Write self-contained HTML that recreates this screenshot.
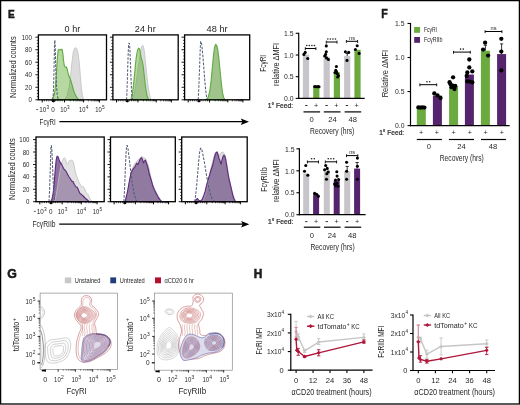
<!DOCTYPE html>
<html><head><meta charset="utf-8"><style>
html,body{margin:0;padding:0;background:#fff;}
svg{display:block;font-family:"Liberation Sans", sans-serif;will-change:transform;}
text{fill:#231f20;}
</style></head><body>
<svg width="520" height="405" viewBox="0 0 520 405">
<rect x="0" y="0" width="520" height="405" fill="#fff"/>
<text x="7.90" y="17.50" font-size="11.7" textLength="6.70" lengthAdjust="spacingAndGlyphs" font-weight="bold" stroke="#000" stroke-width="0.45">E</text>
<text x="381.20" y="17.80" font-size="12.2" textLength="6.50" lengthAdjust="spacingAndGlyphs" font-weight="bold" stroke="#000" stroke-width="0.45">F</text>
<text x="7.20" y="278.00" font-size="12.2" textLength="9.60" lengthAdjust="spacingAndGlyphs" font-weight="bold" stroke="#000" stroke-width="0.45">G</text>
<text x="253.80" y="278.30" font-size="12.2" textLength="8.60" lengthAdjust="spacingAndGlyphs" font-weight="bold" stroke="#000" stroke-width="0.45">H</text>
<path d="M64.50,99.80 L67.00,96.00 L69.00,88.00 L70.50,76.00 L72.00,62.00 L73.30,52.00 L74.60,48.20 L75.60,47.60 L76.80,48.60 L78.00,53.00 L79.20,62.00 L80.30,75.00 L81.30,87.00 L82.30,95.00 L83.50,99.80 Z" fill="#dcdcdc" stroke="#c6c6c6" stroke-width="0.9" stroke-linejoin="round"/>
<path d="M51.80,99.80 L53.00,98.00 L54.40,94.00 L55.50,86.00 L56.50,72.00 L57.40,58.00 L58.20,50.00 L59.00,49.40 L60.20,50.20 L61.20,49.20 L62.20,49.60 L62.90,54.00 L63.60,61.00 L64.40,66.00 L65.40,67.30 L66.40,67.00 L67.40,70.00 L68.40,74.50 L69.60,77.50 L71.00,81.00 L72.40,86.00 L73.60,90.50 L75.00,94.00 L76.60,97.20 L78.70,99.80 Z" fill="rgba(55,152,0,0.37)" stroke="#62ac43" stroke-width="1.15" stroke-linejoin="round"/>
<path d="M52.60,99.80 L53.30,94.00 L53.80,80.00 L54.20,60.00 L54.50,46.00 L54.70,40.20 L54.90,40.20 L55.30,50.00 L55.80,70.00 L56.50,86.00 L57.30,95.00 L58.30,99.80" fill="none" stroke="#525c76" stroke-width="1.05" stroke-linejoin="round" stroke-dasharray="2.6,1.4"/>
<line x1="38.40" y1="99.50" x2="106.50" y2="99.50" stroke="#6aaa3f" stroke-width="0.8" stroke-dasharray="1.5,2.5" opacity="0.8"/>
<rect x="38.40" y="34.90" width="68.10" height="64.90" fill="none" stroke="#000" stroke-width="1.3"/>
<line x1="35.40" y1="99.80" x2="38.40" y2="99.80" stroke="#000" stroke-width="0.9"/>
<text x="31.90" y="102.40" font-size="7.2" text-anchor="end" textLength="3.40" lengthAdjust="spacingAndGlyphs">0</text>
<line x1="36.80" y1="96.67" x2="38.40" y2="96.67" stroke="#000" stroke-width="0.7"/>
<line x1="36.80" y1="93.54" x2="38.40" y2="93.54" stroke="#000" stroke-width="0.7"/>
<line x1="36.80" y1="90.41" x2="38.40" y2="90.41" stroke="#000" stroke-width="0.7"/>
<line x1="35.40" y1="87.28" x2="38.40" y2="87.28" stroke="#000" stroke-width="0.9"/>
<text x="31.90" y="89.88" font-size="7.2" text-anchor="end" textLength="6.80" lengthAdjust="spacingAndGlyphs">20</text>
<line x1="36.80" y1="84.15" x2="38.40" y2="84.15" stroke="#000" stroke-width="0.7"/>
<line x1="36.80" y1="81.02" x2="38.40" y2="81.02" stroke="#000" stroke-width="0.7"/>
<line x1="36.80" y1="77.89" x2="38.40" y2="77.89" stroke="#000" stroke-width="0.7"/>
<line x1="35.40" y1="74.76" x2="38.40" y2="74.76" stroke="#000" stroke-width="0.9"/>
<text x="31.90" y="77.36" font-size="7.2" text-anchor="end" textLength="6.80" lengthAdjust="spacingAndGlyphs">40</text>
<line x1="36.80" y1="71.63" x2="38.40" y2="71.63" stroke="#000" stroke-width="0.7"/>
<line x1="36.80" y1="68.50" x2="38.40" y2="68.50" stroke="#000" stroke-width="0.7"/>
<line x1="36.80" y1="65.37" x2="38.40" y2="65.37" stroke="#000" stroke-width="0.7"/>
<line x1="35.40" y1="62.24" x2="38.40" y2="62.24" stroke="#000" stroke-width="0.9"/>
<text x="31.90" y="64.84" font-size="7.2" text-anchor="end" textLength="6.80" lengthAdjust="spacingAndGlyphs">60</text>
<line x1="36.80" y1="59.11" x2="38.40" y2="59.11" stroke="#000" stroke-width="0.7"/>
<line x1="36.80" y1="55.98" x2="38.40" y2="55.98" stroke="#000" stroke-width="0.7"/>
<line x1="36.80" y1="52.85" x2="38.40" y2="52.85" stroke="#000" stroke-width="0.7"/>
<line x1="35.40" y1="49.72" x2="38.40" y2="49.72" stroke="#000" stroke-width="0.9"/>
<text x="31.90" y="52.32" font-size="7.2" text-anchor="end" textLength="6.80" lengthAdjust="spacingAndGlyphs">80</text>
<line x1="36.80" y1="46.59" x2="38.40" y2="46.59" stroke="#000" stroke-width="0.7"/>
<line x1="36.80" y1="43.46" x2="38.40" y2="43.46" stroke="#000" stroke-width="0.7"/>
<line x1="36.80" y1="40.33" x2="38.40" y2="40.33" stroke="#000" stroke-width="0.7"/>
<line x1="35.40" y1="37.20" x2="38.40" y2="37.20" stroke="#000" stroke-width="0.9"/>
<text x="31.90" y="39.80" font-size="7.2" text-anchor="end" textLength="10.20" lengthAdjust="spacingAndGlyphs">100</text>
<line x1="42.20" y1="99.80" x2="42.20" y2="102.40" stroke="#000" stroke-width="1.0"/>
<line x1="53.40" y1="99.80" x2="53.40" y2="102.40" stroke="#000" stroke-width="1.0"/>
<line x1="64.50" y1="99.80" x2="64.50" y2="102.40" stroke="#000" stroke-width="1.0"/>
<line x1="83.60" y1="99.80" x2="83.60" y2="102.40" stroke="#000" stroke-width="1.0"/>
<line x1="99.40" y1="99.80" x2="99.40" y2="102.40" stroke="#000" stroke-width="1.0"/>
<line x1="70.25" y1="99.80" x2="70.25" y2="101.30" stroke="#000" stroke-width="0.7"/>
<line x1="88.36" y1="99.80" x2="88.36" y2="101.30" stroke="#000" stroke-width="0.7"/>
<line x1="73.61" y1="99.80" x2="73.61" y2="101.30" stroke="#000" stroke-width="0.7"/>
<line x1="91.14" y1="99.80" x2="91.14" y2="101.30" stroke="#000" stroke-width="0.7"/>
<line x1="76.00" y1="99.80" x2="76.00" y2="101.30" stroke="#000" stroke-width="0.7"/>
<line x1="93.11" y1="99.80" x2="93.11" y2="101.30" stroke="#000" stroke-width="0.7"/>
<line x1="77.85" y1="99.80" x2="77.85" y2="101.30" stroke="#000" stroke-width="0.7"/>
<line x1="94.64" y1="99.80" x2="94.64" y2="101.30" stroke="#000" stroke-width="0.7"/>
<line x1="79.36" y1="99.80" x2="79.36" y2="101.30" stroke="#000" stroke-width="0.7"/>
<line x1="95.89" y1="99.80" x2="95.89" y2="101.30" stroke="#000" stroke-width="0.7"/>
<line x1="80.64" y1="99.80" x2="80.64" y2="101.30" stroke="#000" stroke-width="0.7"/>
<line x1="96.95" y1="99.80" x2="96.95" y2="101.30" stroke="#000" stroke-width="0.7"/>
<line x1="81.75" y1="99.80" x2="81.75" y2="101.30" stroke="#000" stroke-width="0.7"/>
<line x1="97.87" y1="99.80" x2="97.87" y2="101.30" stroke="#000" stroke-width="0.7"/>
<line x1="82.73" y1="99.80" x2="82.73" y2="101.30" stroke="#000" stroke-width="0.7"/>
<line x1="98.68" y1="99.80" x2="98.68" y2="101.30" stroke="#000" stroke-width="0.7"/>
<line x1="44.44" y1="99.80" x2="44.44" y2="101.30" stroke="#000" stroke-width="0.7"/>
<line x1="55.62" y1="99.80" x2="55.62" y2="101.30" stroke="#000" stroke-width="0.7"/>
<line x1="46.68" y1="99.80" x2="46.68" y2="101.30" stroke="#000" stroke-width="0.7"/>
<line x1="57.84" y1="99.80" x2="57.84" y2="101.30" stroke="#000" stroke-width="0.7"/>
<line x1="48.92" y1="99.80" x2="48.92" y2="101.30" stroke="#000" stroke-width="0.7"/>
<line x1="60.06" y1="99.80" x2="60.06" y2="101.30" stroke="#000" stroke-width="0.7"/>
<line x1="51.16" y1="99.80" x2="51.16" y2="101.30" stroke="#000" stroke-width="0.7"/>
<line x1="62.28" y1="99.80" x2="62.28" y2="101.30" stroke="#000" stroke-width="0.7"/>
<rect x="52.00" y="100.20" width="2.80" height="1.80" fill="#000"/>
<path d="M132.50,99.80 L134.50,93.00 L136.50,80.00 L138.50,65.00 L140.30,52.00 L141.60,46.20 L142.60,45.20 L143.60,47.00 L144.60,53.00 L145.80,65.00 L147.20,79.00 L148.80,91.00 L150.80,99.80 Z" fill="#dcdcdc" stroke="#c6c6c6" stroke-width="0.9" stroke-linejoin="round"/>
<path d="M130.80,99.80 L132.20,95.00 L133.40,86.00 L134.60,74.00 L135.60,63.00 L136.60,55.00 L137.60,50.00 L138.60,48.20 L139.60,49.20 L140.40,53.00 L141.20,58.00 L142.20,61.00 L143.20,66.00 L144.20,75.00 L145.40,86.00 L146.80,95.00 L148.40,99.80 Z" fill="rgba(55,152,0,0.37)" stroke="#62ac43" stroke-width="1.15" stroke-linejoin="round"/>
<path d="M126.60,99.80 L127.20,85.00 L127.80,65.00 L128.40,48.00 L128.80,43.20 L129.40,43.20 L129.80,48.00 L130.40,62.00 L131.00,78.00 L131.60,92.00 L132.30,99.80" fill="none" stroke="#525c76" stroke-width="1.05" stroke-linejoin="round" stroke-dasharray="2.6,1.4"/>
<line x1="112.90" y1="99.50" x2="178.20" y2="99.50" stroke="#6aaa3f" stroke-width="0.8" stroke-dasharray="1.5,2.5" opacity="0.8"/>
<rect x="112.90" y="34.90" width="65.30" height="64.90" fill="none" stroke="#000" stroke-width="1.3"/>
<line x1="109.90" y1="99.80" x2="112.90" y2="99.80" stroke="#000" stroke-width="0.9"/>
<line x1="111.30" y1="96.67" x2="112.90" y2="96.67" stroke="#000" stroke-width="0.7"/>
<line x1="111.30" y1="93.54" x2="112.90" y2="93.54" stroke="#000" stroke-width="0.7"/>
<line x1="111.30" y1="90.41" x2="112.90" y2="90.41" stroke="#000" stroke-width="0.7"/>
<line x1="109.90" y1="87.28" x2="112.90" y2="87.28" stroke="#000" stroke-width="0.9"/>
<line x1="111.30" y1="84.15" x2="112.90" y2="84.15" stroke="#000" stroke-width="0.7"/>
<line x1="111.30" y1="81.02" x2="112.90" y2="81.02" stroke="#000" stroke-width="0.7"/>
<line x1="111.30" y1="77.89" x2="112.90" y2="77.89" stroke="#000" stroke-width="0.7"/>
<line x1="109.90" y1="74.76" x2="112.90" y2="74.76" stroke="#000" stroke-width="0.9"/>
<line x1="111.30" y1="71.63" x2="112.90" y2="71.63" stroke="#000" stroke-width="0.7"/>
<line x1="111.30" y1="68.50" x2="112.90" y2="68.50" stroke="#000" stroke-width="0.7"/>
<line x1="111.30" y1="65.37" x2="112.90" y2="65.37" stroke="#000" stroke-width="0.7"/>
<line x1="109.90" y1="62.24" x2="112.90" y2="62.24" stroke="#000" stroke-width="0.9"/>
<line x1="111.30" y1="59.11" x2="112.90" y2="59.11" stroke="#000" stroke-width="0.7"/>
<line x1="111.30" y1="55.98" x2="112.90" y2="55.98" stroke="#000" stroke-width="0.7"/>
<line x1="111.30" y1="52.85" x2="112.90" y2="52.85" stroke="#000" stroke-width="0.7"/>
<line x1="109.90" y1="49.72" x2="112.90" y2="49.72" stroke="#000" stroke-width="0.9"/>
<line x1="111.30" y1="46.59" x2="112.90" y2="46.59" stroke="#000" stroke-width="0.7"/>
<line x1="111.30" y1="43.46" x2="112.90" y2="43.46" stroke="#000" stroke-width="0.7"/>
<line x1="111.30" y1="40.33" x2="112.90" y2="40.33" stroke="#000" stroke-width="0.7"/>
<line x1="109.90" y1="37.20" x2="112.90" y2="37.20" stroke="#000" stroke-width="0.9"/>
<line x1="116.54" y1="99.80" x2="116.54" y2="102.40" stroke="#000" stroke-width="1.0"/>
<line x1="127.28" y1="99.80" x2="127.28" y2="102.40" stroke="#000" stroke-width="1.0"/>
<line x1="137.93" y1="99.80" x2="137.93" y2="102.40" stroke="#000" stroke-width="1.0"/>
<line x1="156.24" y1="99.80" x2="156.24" y2="102.40" stroke="#000" stroke-width="1.0"/>
<line x1="171.39" y1="99.80" x2="171.39" y2="102.40" stroke="#000" stroke-width="1.0"/>
<line x1="143.44" y1="99.80" x2="143.44" y2="101.30" stroke="#000" stroke-width="0.7"/>
<line x1="160.80" y1="99.80" x2="160.80" y2="101.30" stroke="#000" stroke-width="0.7"/>
<line x1="146.67" y1="99.80" x2="146.67" y2="101.30" stroke="#000" stroke-width="0.7"/>
<line x1="163.47" y1="99.80" x2="163.47" y2="101.30" stroke="#000" stroke-width="0.7"/>
<line x1="148.95" y1="99.80" x2="148.95" y2="101.30" stroke="#000" stroke-width="0.7"/>
<line x1="165.36" y1="99.80" x2="165.36" y2="101.30" stroke="#000" stroke-width="0.7"/>
<line x1="150.73" y1="99.80" x2="150.73" y2="101.30" stroke="#000" stroke-width="0.7"/>
<line x1="166.83" y1="99.80" x2="166.83" y2="101.30" stroke="#000" stroke-width="0.7"/>
<line x1="152.18" y1="99.80" x2="152.18" y2="101.30" stroke="#000" stroke-width="0.7"/>
<line x1="168.03" y1="99.80" x2="168.03" y2="101.30" stroke="#000" stroke-width="0.7"/>
<line x1="153.40" y1="99.80" x2="153.40" y2="101.30" stroke="#000" stroke-width="0.7"/>
<line x1="169.05" y1="99.80" x2="169.05" y2="101.30" stroke="#000" stroke-width="0.7"/>
<line x1="154.47" y1="99.80" x2="154.47" y2="101.30" stroke="#000" stroke-width="0.7"/>
<line x1="169.92" y1="99.80" x2="169.92" y2="101.30" stroke="#000" stroke-width="0.7"/>
<line x1="155.40" y1="99.80" x2="155.40" y2="101.30" stroke="#000" stroke-width="0.7"/>
<line x1="170.70" y1="99.80" x2="170.70" y2="101.30" stroke="#000" stroke-width="0.7"/>
<line x1="118.69" y1="99.80" x2="118.69" y2="101.30" stroke="#000" stroke-width="0.7"/>
<line x1="129.41" y1="99.80" x2="129.41" y2="101.30" stroke="#000" stroke-width="0.7"/>
<line x1="120.84" y1="99.80" x2="120.84" y2="101.30" stroke="#000" stroke-width="0.7"/>
<line x1="131.54" y1="99.80" x2="131.54" y2="101.30" stroke="#000" stroke-width="0.7"/>
<line x1="122.99" y1="99.80" x2="122.99" y2="101.30" stroke="#000" stroke-width="0.7"/>
<line x1="133.67" y1="99.80" x2="133.67" y2="101.30" stroke="#000" stroke-width="0.7"/>
<line x1="125.14" y1="99.80" x2="125.14" y2="101.30" stroke="#000" stroke-width="0.7"/>
<line x1="135.80" y1="99.80" x2="135.80" y2="101.30" stroke="#000" stroke-width="0.7"/>
<rect x="125.88" y="100.20" width="2.80" height="1.80" fill="#000"/>
<path d="M206.60,99.80 L208.30,97.00 L209.80,91.00 L211.20,80.00 L212.40,67.00 L213.50,55.00 L214.50,47.50 L215.60,44.40 L216.70,45.50 L217.80,50.00 L218.90,59.00 L220.00,70.00 L221.20,82.00 L222.40,92.00 L223.60,97.50 L225.00,99.80 Z" fill="#dcdcdc"/>
<path d="M206.60,99.80 L208.30,97.00 L209.80,91.00 L211.20,80.00 L212.40,67.00 L213.50,55.00 L214.50,47.50 L215.60,44.40 L216.70,45.50 L217.80,50.00 L218.90,59.00 L220.00,70.00 L221.20,82.00 L222.40,92.00 L223.60,97.50 L225.00,99.80 Z" fill="rgba(55,152,0,0.37)" stroke="#62ac43" stroke-width="1.15" stroke-linejoin="round"/>
<path d="M198.20,99.80 L198.80,88.00 L199.50,70.00 L200.10,52.00 L200.60,42.00 L201.10,41.40 L201.80,45.00 L202.80,55.00 L203.80,68.00 L204.90,82.00 L206.00,93.00 L207.00,99.80" fill="none" stroke="#525c76" stroke-width="1.05" stroke-linejoin="round" stroke-dasharray="2.6,1.4"/>
<line x1="184.60" y1="99.50" x2="249.70" y2="99.50" stroke="#6aaa3f" stroke-width="0.8" stroke-dasharray="1.5,2.5" opacity="0.8"/>
<rect x="184.60" y="34.90" width="65.10" height="64.90" fill="none" stroke="#000" stroke-width="1.3"/>
<line x1="181.60" y1="99.80" x2="184.60" y2="99.80" stroke="#000" stroke-width="0.9"/>
<line x1="183.00" y1="96.67" x2="184.60" y2="96.67" stroke="#000" stroke-width="0.7"/>
<line x1="183.00" y1="93.54" x2="184.60" y2="93.54" stroke="#000" stroke-width="0.7"/>
<line x1="183.00" y1="90.41" x2="184.60" y2="90.41" stroke="#000" stroke-width="0.7"/>
<line x1="181.60" y1="87.28" x2="184.60" y2="87.28" stroke="#000" stroke-width="0.9"/>
<line x1="183.00" y1="84.15" x2="184.60" y2="84.15" stroke="#000" stroke-width="0.7"/>
<line x1="183.00" y1="81.02" x2="184.60" y2="81.02" stroke="#000" stroke-width="0.7"/>
<line x1="183.00" y1="77.89" x2="184.60" y2="77.89" stroke="#000" stroke-width="0.7"/>
<line x1="181.60" y1="74.76" x2="184.60" y2="74.76" stroke="#000" stroke-width="0.9"/>
<line x1="183.00" y1="71.63" x2="184.60" y2="71.63" stroke="#000" stroke-width="0.7"/>
<line x1="183.00" y1="68.50" x2="184.60" y2="68.50" stroke="#000" stroke-width="0.7"/>
<line x1="183.00" y1="65.37" x2="184.60" y2="65.37" stroke="#000" stroke-width="0.7"/>
<line x1="181.60" y1="62.24" x2="184.60" y2="62.24" stroke="#000" stroke-width="0.9"/>
<line x1="183.00" y1="59.11" x2="184.60" y2="59.11" stroke="#000" stroke-width="0.7"/>
<line x1="183.00" y1="55.98" x2="184.60" y2="55.98" stroke="#000" stroke-width="0.7"/>
<line x1="183.00" y1="52.85" x2="184.60" y2="52.85" stroke="#000" stroke-width="0.7"/>
<line x1="181.60" y1="49.72" x2="184.60" y2="49.72" stroke="#000" stroke-width="0.9"/>
<line x1="183.00" y1="46.59" x2="184.60" y2="46.59" stroke="#000" stroke-width="0.7"/>
<line x1="183.00" y1="43.46" x2="184.60" y2="43.46" stroke="#000" stroke-width="0.7"/>
<line x1="183.00" y1="40.33" x2="184.60" y2="40.33" stroke="#000" stroke-width="0.7"/>
<line x1="181.60" y1="37.20" x2="184.60" y2="37.20" stroke="#000" stroke-width="0.9"/>
<line x1="188.23" y1="99.80" x2="188.23" y2="102.40" stroke="#000" stroke-width="1.0"/>
<line x1="198.94" y1="99.80" x2="198.94" y2="102.40" stroke="#000" stroke-width="1.0"/>
<line x1="209.55" y1="99.80" x2="209.55" y2="102.40" stroke="#000" stroke-width="1.0"/>
<line x1="227.81" y1="99.80" x2="227.81" y2="102.40" stroke="#000" stroke-width="1.0"/>
<line x1="242.91" y1="99.80" x2="242.91" y2="102.40" stroke="#000" stroke-width="1.0"/>
<line x1="215.05" y1="99.80" x2="215.05" y2="101.30" stroke="#000" stroke-width="0.7"/>
<line x1="232.36" y1="99.80" x2="232.36" y2="101.30" stroke="#000" stroke-width="0.7"/>
<line x1="218.26" y1="99.80" x2="218.26" y2="101.30" stroke="#000" stroke-width="0.7"/>
<line x1="235.02" y1="99.80" x2="235.02" y2="101.30" stroke="#000" stroke-width="0.7"/>
<line x1="220.54" y1="99.80" x2="220.54" y2="101.30" stroke="#000" stroke-width="0.7"/>
<line x1="236.90" y1="99.80" x2="236.90" y2="101.30" stroke="#000" stroke-width="0.7"/>
<line x1="222.31" y1="99.80" x2="222.31" y2="101.30" stroke="#000" stroke-width="0.7"/>
<line x1="238.37" y1="99.80" x2="238.37" y2="101.30" stroke="#000" stroke-width="0.7"/>
<line x1="223.76" y1="99.80" x2="223.76" y2="101.30" stroke="#000" stroke-width="0.7"/>
<line x1="239.56" y1="99.80" x2="239.56" y2="101.30" stroke="#000" stroke-width="0.7"/>
<line x1="224.98" y1="99.80" x2="224.98" y2="101.30" stroke="#000" stroke-width="0.7"/>
<line x1="240.57" y1="99.80" x2="240.57" y2="101.30" stroke="#000" stroke-width="0.7"/>
<line x1="226.04" y1="99.80" x2="226.04" y2="101.30" stroke="#000" stroke-width="0.7"/>
<line x1="241.45" y1="99.80" x2="241.45" y2="101.30" stroke="#000" stroke-width="0.7"/>
<line x1="226.97" y1="99.80" x2="226.97" y2="101.30" stroke="#000" stroke-width="0.7"/>
<line x1="242.22" y1="99.80" x2="242.22" y2="101.30" stroke="#000" stroke-width="0.7"/>
<line x1="190.37" y1="99.80" x2="190.37" y2="101.30" stroke="#000" stroke-width="0.7"/>
<line x1="201.06" y1="99.80" x2="201.06" y2="101.30" stroke="#000" stroke-width="0.7"/>
<line x1="192.52" y1="99.80" x2="192.52" y2="101.30" stroke="#000" stroke-width="0.7"/>
<line x1="203.18" y1="99.80" x2="203.18" y2="101.30" stroke="#000" stroke-width="0.7"/>
<line x1="194.66" y1="99.80" x2="194.66" y2="101.30" stroke="#000" stroke-width="0.7"/>
<line x1="205.31" y1="99.80" x2="205.31" y2="101.30" stroke="#000" stroke-width="0.7"/>
<line x1="196.80" y1="99.80" x2="196.80" y2="101.30" stroke="#000" stroke-width="0.7"/>
<line x1="207.43" y1="99.80" x2="207.43" y2="101.30" stroke="#000" stroke-width="0.7"/>
<rect x="197.54" y="100.20" width="2.80" height="1.80" fill="#000"/>
<line x1="36.20" y1="109.50" x2="38.20" y2="109.50" stroke="#231f20" stroke-width="0.7"/>
<text x="39.20" y="111.70" font-size="7.0" fill="#231f20" textLength="7.00" lengthAdjust="spacingAndGlyphs">10</text>
<text x="46.50" y="109.18" font-size="4.76" fill="#231f20">3</text>
<text x="51.30" y="111.70" font-size="7.0" textLength="3.50" lengthAdjust="spacingAndGlyphs">0</text>
<text x="60.20" y="111.70" font-size="7.0" fill="#231f20" textLength="6.60" lengthAdjust="spacingAndGlyphs">10</text>
<text x="67.10" y="109.18" font-size="4.76" fill="#231f20">3</text>
<text x="79.10" y="111.70" font-size="7.0" fill="#231f20" textLength="6.40" lengthAdjust="spacingAndGlyphs">10</text>
<text x="85.80" y="109.18" font-size="4.76" fill="#231f20">4</text>
<text x="95.20" y="111.70" font-size="7.0" fill="#231f20" textLength="6.50" lengthAdjust="spacingAndGlyphs">10</text>
<text x="102.00" y="109.18" font-size="4.76" fill="#231f20">5</text>
<text x="0" y="0" font-size="9.0" text-anchor="middle" textLength="61.50" lengthAdjust="spacingAndGlyphs" transform="translate(15.84 67.15) rotate(-90)">Normalized counts</text>
<path d="M50.60,201.70 L52.00,199.00 L53.20,193.00 L54.20,183.00 L55.20,170.00 L56.20,160.00 L57.10,156.20 L58.00,156.80 L59.00,159.50 L60.20,162.50 L61.40,163.80 L62.60,166.50 L63.80,168.80 L65.00,170.00 L66.20,171.50 L67.40,174.00 L68.80,176.50 L70.20,178.50 L71.60,181.00 L73.00,181.60 L74.40,184.50 L75.80,186.80 L77.20,187.20 L78.60,190.50 L80.00,193.60 L81.60,194.60 L83.20,196.00 L85.00,198.00 L86.80,199.50 L89.30,201.70 Z" fill="rgba(68,15,98,0.6)"/>
<path d="M54.50,201.70 L56.00,196.00 L57.50,187.00 L59.00,177.00 L60.60,168.00 L62.20,161.50 L63.60,158.20 L64.60,157.80 L65.80,160.00 L67.00,164.50 L68.20,163.00 L69.40,160.80 L71.00,160.20 L72.60,160.40 L73.60,163.00 L74.80,169.00 L76.20,175.00 L77.80,179.00 L79.20,182.50 L80.40,184.50 L81.60,187.00 L82.80,186.50 L84.00,187.20 L85.20,190.00 L86.40,193.00 L87.80,194.00 L89.00,196.50 L90.50,199.50 L92.60,201.70 Z" fill="rgba(195,195,195,0.46)" stroke="#c2c2c2" stroke-width="0.8" stroke-linejoin="round"/>
<path d="M50.60,201.70 L52.00,199.00 L53.20,193.00 L54.20,183.00 L55.20,170.00 L56.20,160.00 L57.10,156.20 L58.00,156.80 L59.00,159.50 L60.20,162.50 L61.40,163.80 L62.60,166.50 L63.80,168.80 L65.00,170.00 L66.20,171.50 L67.40,174.00 L68.80,176.50 L70.20,178.50 L71.60,181.00 L73.00,181.60 L74.40,184.50 L75.80,186.80 L77.20,187.20 L78.60,190.50 L80.00,193.60 L81.60,194.60 L83.20,196.00 L85.00,198.00 L86.80,199.50 L89.30,201.70 Z" fill="none" stroke="#5e2c7e" stroke-width="1.15" stroke-linejoin="round"/>
<path d="M49.00,201.70 L49.60,190.00 L50.20,172.00 L50.70,155.00 L51.00,146.00 L51.40,145.60 L51.90,150.00 L52.50,165.00 L53.20,182.00 L53.90,194.00 L54.80,201.70" fill="none" stroke="#525c76" stroke-width="1.05" stroke-linejoin="round" stroke-dasharray="2.6,1.4"/>
<line x1="36.00" y1="201.40" x2="104.20" y2="201.40" stroke="#6a4a80" stroke-width="0.8" stroke-dasharray="1.5,2.5" opacity="0.8"/>
<rect x="36.00" y="137.00" width="68.20" height="64.70" fill="none" stroke="#000" stroke-width="1.3"/>
<line x1="33.00" y1="201.70" x2="36.00" y2="201.70" stroke="#000" stroke-width="0.9"/>
<text x="29.50" y="204.30" font-size="7.2" text-anchor="end" textLength="3.40" lengthAdjust="spacingAndGlyphs">0</text>
<line x1="34.40" y1="198.59" x2="36.00" y2="198.59" stroke="#000" stroke-width="0.7"/>
<line x1="34.40" y1="195.49" x2="36.00" y2="195.49" stroke="#000" stroke-width="0.7"/>
<line x1="34.40" y1="192.38" x2="36.00" y2="192.38" stroke="#000" stroke-width="0.7"/>
<line x1="33.00" y1="189.28" x2="36.00" y2="189.28" stroke="#000" stroke-width="0.9"/>
<text x="29.50" y="191.88" font-size="7.2" text-anchor="end" textLength="6.80" lengthAdjust="spacingAndGlyphs">20</text>
<line x1="34.40" y1="186.18" x2="36.00" y2="186.18" stroke="#000" stroke-width="0.7"/>
<line x1="34.40" y1="183.07" x2="36.00" y2="183.07" stroke="#000" stroke-width="0.7"/>
<line x1="34.40" y1="179.97" x2="36.00" y2="179.97" stroke="#000" stroke-width="0.7"/>
<line x1="33.00" y1="176.86" x2="36.00" y2="176.86" stroke="#000" stroke-width="0.9"/>
<text x="29.50" y="179.46" font-size="7.2" text-anchor="end" textLength="6.80" lengthAdjust="spacingAndGlyphs">40</text>
<line x1="34.40" y1="173.75" x2="36.00" y2="173.75" stroke="#000" stroke-width="0.7"/>
<line x1="34.40" y1="170.65" x2="36.00" y2="170.65" stroke="#000" stroke-width="0.7"/>
<line x1="34.40" y1="167.54" x2="36.00" y2="167.54" stroke="#000" stroke-width="0.7"/>
<line x1="33.00" y1="164.44" x2="36.00" y2="164.44" stroke="#000" stroke-width="0.9"/>
<text x="29.50" y="167.04" font-size="7.2" text-anchor="end" textLength="6.80" lengthAdjust="spacingAndGlyphs">60</text>
<line x1="34.40" y1="161.34" x2="36.00" y2="161.34" stroke="#000" stroke-width="0.7"/>
<line x1="34.40" y1="158.23" x2="36.00" y2="158.23" stroke="#000" stroke-width="0.7"/>
<line x1="34.40" y1="155.12" x2="36.00" y2="155.12" stroke="#000" stroke-width="0.7"/>
<line x1="33.00" y1="152.02" x2="36.00" y2="152.02" stroke="#000" stroke-width="0.9"/>
<text x="29.50" y="154.62" font-size="7.2" text-anchor="end" textLength="6.80" lengthAdjust="spacingAndGlyphs">80</text>
<line x1="34.40" y1="148.91" x2="36.00" y2="148.91" stroke="#000" stroke-width="0.7"/>
<line x1="34.40" y1="145.81" x2="36.00" y2="145.81" stroke="#000" stroke-width="0.7"/>
<line x1="34.40" y1="142.70" x2="36.00" y2="142.70" stroke="#000" stroke-width="0.7"/>
<line x1="33.00" y1="139.60" x2="36.00" y2="139.60" stroke="#000" stroke-width="0.9"/>
<text x="29.50" y="142.20" font-size="7.2" text-anchor="end" textLength="10.20" lengthAdjust="spacingAndGlyphs">100</text>
<line x1="39.81" y1="201.70" x2="39.81" y2="204.30" stroke="#000" stroke-width="1.0"/>
<line x1="51.02" y1="201.70" x2="51.02" y2="204.30" stroke="#000" stroke-width="1.0"/>
<line x1="62.14" y1="201.70" x2="62.14" y2="204.30" stroke="#000" stroke-width="1.0"/>
<line x1="81.27" y1="201.70" x2="81.27" y2="204.30" stroke="#000" stroke-width="1.0"/>
<line x1="97.09" y1="201.70" x2="97.09" y2="204.30" stroke="#000" stroke-width="1.0"/>
<line x1="67.90" y1="201.70" x2="67.90" y2="203.20" stroke="#000" stroke-width="0.7"/>
<line x1="86.03" y1="201.70" x2="86.03" y2="203.20" stroke="#000" stroke-width="0.7"/>
<line x1="71.26" y1="201.70" x2="71.26" y2="203.20" stroke="#000" stroke-width="0.7"/>
<line x1="88.82" y1="201.70" x2="88.82" y2="203.20" stroke="#000" stroke-width="0.7"/>
<line x1="73.65" y1="201.70" x2="73.65" y2="203.20" stroke="#000" stroke-width="0.7"/>
<line x1="90.79" y1="201.70" x2="90.79" y2="203.20" stroke="#000" stroke-width="0.7"/>
<line x1="75.51" y1="201.70" x2="75.51" y2="203.20" stroke="#000" stroke-width="0.7"/>
<line x1="92.33" y1="201.70" x2="92.33" y2="203.20" stroke="#000" stroke-width="0.7"/>
<line x1="77.02" y1="201.70" x2="77.02" y2="203.20" stroke="#000" stroke-width="0.7"/>
<line x1="93.58" y1="201.70" x2="93.58" y2="203.20" stroke="#000" stroke-width="0.7"/>
<line x1="78.30" y1="201.70" x2="78.30" y2="203.20" stroke="#000" stroke-width="0.7"/>
<line x1="94.64" y1="201.70" x2="94.64" y2="203.20" stroke="#000" stroke-width="0.7"/>
<line x1="79.41" y1="201.70" x2="79.41" y2="203.20" stroke="#000" stroke-width="0.7"/>
<line x1="95.56" y1="201.70" x2="95.56" y2="203.20" stroke="#000" stroke-width="0.7"/>
<line x1="80.39" y1="201.70" x2="80.39" y2="203.20" stroke="#000" stroke-width="0.7"/>
<line x1="96.37" y1="201.70" x2="96.37" y2="203.20" stroke="#000" stroke-width="0.7"/>
<line x1="42.05" y1="201.70" x2="42.05" y2="203.20" stroke="#000" stroke-width="0.7"/>
<line x1="53.25" y1="201.70" x2="53.25" y2="203.20" stroke="#000" stroke-width="0.7"/>
<line x1="44.29" y1="201.70" x2="44.29" y2="203.20" stroke="#000" stroke-width="0.7"/>
<line x1="55.47" y1="201.70" x2="55.47" y2="203.20" stroke="#000" stroke-width="0.7"/>
<line x1="46.54" y1="201.70" x2="46.54" y2="203.20" stroke="#000" stroke-width="0.7"/>
<line x1="57.69" y1="201.70" x2="57.69" y2="203.20" stroke="#000" stroke-width="0.7"/>
<line x1="48.78" y1="201.70" x2="48.78" y2="203.20" stroke="#000" stroke-width="0.7"/>
<line x1="59.92" y1="201.70" x2="59.92" y2="203.20" stroke="#000" stroke-width="0.7"/>
<rect x="49.62" y="202.10" width="2.80" height="1.80" fill="#000"/>
<path d="M124.80,201.70 L127.00,194.00 L129.00,184.00 L131.00,174.00 L133.00,167.00 L135.50,162.50 L138.00,160.00 L140.00,158.00 L141.80,156.30 L143.40,157.50 L145.00,158.30 L146.80,161.00 L148.40,166.00 L149.80,172.00 L151.20,179.00 L152.80,185.00 L154.60,189.00 L156.60,193.00 L158.60,197.00 L162.20,201.70 Z" fill="#dcdcdc" stroke="#c6c6c6" stroke-width="0.8" stroke-linejoin="round"/>
<path d="M125.10,201.70 L126.60,196.00 L128.00,189.00 L129.40,181.00 L130.80,174.00 L132.20,170.30 L133.40,168.50 L134.60,167.50 L135.80,165.00 L136.80,163.20 L137.80,164.50 L138.60,163.00 L139.60,160.20 L140.60,158.50 L141.60,157.80 L142.60,160.00 L143.40,162.80 L144.40,161.20 L145.40,160.20 L146.40,163.20 L147.40,166.00 L148.40,169.60 L149.20,173.80 L150.40,177.50 L151.60,181.50 L152.80,185.80 L154.40,189.90 L156.00,193.00 L158.00,196.80 L159.80,199.60 L161.60,201.70 Z" fill="rgba(95,57,120,0.6)"/>
<path d="M124.80,201.70 L127.00,194.00 L129.00,184.00 L131.00,174.00 L133.00,167.00 L135.50,162.50 L138.00,160.00 L140.00,158.00 L141.80,156.30 L143.40,157.50 L145.00,158.30 L146.80,161.00 L148.40,166.00 L149.80,172.00 L151.20,179.00 L152.80,185.00 L154.60,189.00 L156.60,193.00 L158.60,197.00 L162.20,201.70 Z" fill="none" stroke="#c8c8c8" stroke-width="0.6" stroke-linejoin="round" opacity="0.7"/>
<path d="M125.10,201.70 L126.60,196.00 L128.00,189.00 L129.40,181.00 L130.80,174.00 L132.20,170.30 L133.40,168.50 L134.60,167.50 L135.80,165.00 L136.80,163.20 L137.80,164.50 L138.60,163.00 L139.60,160.20 L140.60,158.50 L141.60,157.80 L142.60,160.00 L143.40,162.80 L144.40,161.20 L145.40,160.20 L146.40,163.20 L147.40,166.00 L148.40,169.60 L149.20,173.80 L150.40,177.50 L151.60,181.50 L152.80,185.80 L154.40,189.90 L156.00,193.00 L158.00,196.80 L159.80,199.60 L161.60,201.70 Z" fill="none" stroke="#5e2c7e" stroke-width="1.15" stroke-linejoin="round"/>
<path d="M123.90,201.70 L124.60,188.00 L125.30,170.00 L126.00,154.00 L126.70,145.40 L127.30,145.40 L128.20,150.00 L129.40,160.00 L130.80,172.00 L132.40,184.00 L134.20,194.00 L136.60,201.70" fill="none" stroke="#525c76" stroke-width="1.05" stroke-linejoin="round" stroke-dasharray="2.6,1.4"/>
<line x1="110.50" y1="201.40" x2="175.30" y2="201.40" stroke="#6a4a80" stroke-width="0.8" stroke-dasharray="1.5,2.5" opacity="0.8"/>
<rect x="110.50" y="137.00" width="64.80" height="64.70" fill="none" stroke="#000" stroke-width="1.3"/>
<line x1="107.50" y1="201.70" x2="110.50" y2="201.70" stroke="#000" stroke-width="0.9"/>
<line x1="108.90" y1="198.59" x2="110.50" y2="198.59" stroke="#000" stroke-width="0.7"/>
<line x1="108.90" y1="195.49" x2="110.50" y2="195.49" stroke="#000" stroke-width="0.7"/>
<line x1="108.90" y1="192.38" x2="110.50" y2="192.38" stroke="#000" stroke-width="0.7"/>
<line x1="107.50" y1="189.28" x2="110.50" y2="189.28" stroke="#000" stroke-width="0.9"/>
<line x1="108.90" y1="186.18" x2="110.50" y2="186.18" stroke="#000" stroke-width="0.7"/>
<line x1="108.90" y1="183.07" x2="110.50" y2="183.07" stroke="#000" stroke-width="0.7"/>
<line x1="108.90" y1="179.97" x2="110.50" y2="179.97" stroke="#000" stroke-width="0.7"/>
<line x1="107.50" y1="176.86" x2="110.50" y2="176.86" stroke="#000" stroke-width="0.9"/>
<line x1="108.90" y1="173.75" x2="110.50" y2="173.75" stroke="#000" stroke-width="0.7"/>
<line x1="108.90" y1="170.65" x2="110.50" y2="170.65" stroke="#000" stroke-width="0.7"/>
<line x1="108.90" y1="167.54" x2="110.50" y2="167.54" stroke="#000" stroke-width="0.7"/>
<line x1="107.50" y1="164.44" x2="110.50" y2="164.44" stroke="#000" stroke-width="0.9"/>
<line x1="108.90" y1="161.34" x2="110.50" y2="161.34" stroke="#000" stroke-width="0.7"/>
<line x1="108.90" y1="158.23" x2="110.50" y2="158.23" stroke="#000" stroke-width="0.7"/>
<line x1="108.90" y1="155.12" x2="110.50" y2="155.12" stroke="#000" stroke-width="0.7"/>
<line x1="107.50" y1="152.02" x2="110.50" y2="152.02" stroke="#000" stroke-width="0.9"/>
<line x1="108.90" y1="148.91" x2="110.50" y2="148.91" stroke="#000" stroke-width="0.7"/>
<line x1="108.90" y1="145.81" x2="110.50" y2="145.81" stroke="#000" stroke-width="0.7"/>
<line x1="108.90" y1="142.70" x2="110.50" y2="142.70" stroke="#000" stroke-width="0.7"/>
<line x1="107.50" y1="139.60" x2="110.50" y2="139.60" stroke="#000" stroke-width="0.9"/>
<line x1="114.12" y1="201.70" x2="114.12" y2="204.30" stroke="#000" stroke-width="1.0"/>
<line x1="124.77" y1="201.70" x2="124.77" y2="204.30" stroke="#000" stroke-width="1.0"/>
<line x1="135.34" y1="201.70" x2="135.34" y2="204.30" stroke="#000" stroke-width="1.0"/>
<line x1="153.51" y1="201.70" x2="153.51" y2="204.30" stroke="#000" stroke-width="1.0"/>
<line x1="168.54" y1="201.70" x2="168.54" y2="204.30" stroke="#000" stroke-width="1.0"/>
<line x1="140.81" y1="201.70" x2="140.81" y2="203.20" stroke="#000" stroke-width="0.7"/>
<line x1="158.04" y1="201.70" x2="158.04" y2="203.20" stroke="#000" stroke-width="0.7"/>
<line x1="144.01" y1="201.70" x2="144.01" y2="203.20" stroke="#000" stroke-width="0.7"/>
<line x1="160.68" y1="201.70" x2="160.68" y2="203.20" stroke="#000" stroke-width="0.7"/>
<line x1="146.28" y1="201.70" x2="146.28" y2="203.20" stroke="#000" stroke-width="0.7"/>
<line x1="162.56" y1="201.70" x2="162.56" y2="203.20" stroke="#000" stroke-width="0.7"/>
<line x1="148.04" y1="201.70" x2="148.04" y2="203.20" stroke="#000" stroke-width="0.7"/>
<line x1="164.02" y1="201.70" x2="164.02" y2="203.20" stroke="#000" stroke-width="0.7"/>
<line x1="149.48" y1="201.70" x2="149.48" y2="203.20" stroke="#000" stroke-width="0.7"/>
<line x1="165.21" y1="201.70" x2="165.21" y2="203.20" stroke="#000" stroke-width="0.7"/>
<line x1="150.69" y1="201.70" x2="150.69" y2="203.20" stroke="#000" stroke-width="0.7"/>
<line x1="166.22" y1="201.70" x2="166.22" y2="203.20" stroke="#000" stroke-width="0.7"/>
<line x1="151.75" y1="201.70" x2="151.75" y2="203.20" stroke="#000" stroke-width="0.7"/>
<line x1="167.09" y1="201.70" x2="167.09" y2="203.20" stroke="#000" stroke-width="0.7"/>
<line x1="152.68" y1="201.70" x2="152.68" y2="203.20" stroke="#000" stroke-width="0.7"/>
<line x1="167.86" y1="201.70" x2="167.86" y2="203.20" stroke="#000" stroke-width="0.7"/>
<line x1="116.25" y1="201.70" x2="116.25" y2="203.20" stroke="#000" stroke-width="0.7"/>
<line x1="126.89" y1="201.70" x2="126.89" y2="203.20" stroke="#000" stroke-width="0.7"/>
<line x1="118.38" y1="201.70" x2="118.38" y2="203.20" stroke="#000" stroke-width="0.7"/>
<line x1="129.00" y1="201.70" x2="129.00" y2="203.20" stroke="#000" stroke-width="0.7"/>
<line x1="120.51" y1="201.70" x2="120.51" y2="203.20" stroke="#000" stroke-width="0.7"/>
<line x1="131.11" y1="201.70" x2="131.11" y2="203.20" stroke="#000" stroke-width="0.7"/>
<line x1="122.64" y1="201.70" x2="122.64" y2="203.20" stroke="#000" stroke-width="0.7"/>
<line x1="133.22" y1="201.70" x2="133.22" y2="203.20" stroke="#000" stroke-width="0.7"/>
<rect x="123.37" y="202.10" width="2.80" height="1.80" fill="#000"/>
<path d="M203.00,201.70 L205.00,196.00 L207.00,188.00 L209.00,178.00 L211.00,168.00 L213.00,160.00 L215.00,154.00 L217.00,151.00 L219.00,156.00 L221.00,152.50 L223.00,152.20 L225.00,155.00 L227.00,165.00 L229.00,178.00 L231.00,188.00 L233.00,195.00 L236.00,201.70 Z" fill="#dcdcdc" stroke="#c6c6c6" stroke-width="0.8" stroke-linejoin="round"/>
<path d="M194.60,201.70 L196.20,199.50 L197.40,198.50 L198.60,200.20 L200.40,201.20 L202.20,199.50 L203.60,196.00 L205.00,192.00 L206.40,186.00 L208.00,180.00 L209.60,175.00 L211.00,170.00 L212.20,166.80 L213.20,163.00 L214.20,158.50 L215.20,154.50 L216.20,152.50 L217.20,152.20 L218.20,155.50 L219.20,159.00 L220.20,161.50 L221.10,164.20 L222.00,160.00 L223.00,156.60 L224.00,155.20 L224.80,156.10 L225.80,160.00 L226.80,166.00 L227.80,172.50 L229.00,179.00 L230.20,184.00 L231.40,189.00 L232.60,194.30 L233.80,198.50 L235.40,201.70 Z" fill="rgba(95,57,120,0.6)"/>
<path d="M203.00,201.70 L205.00,196.00 L207.00,188.00 L209.00,178.00 L211.00,168.00 L213.00,160.00 L215.00,154.00 L217.00,151.00 L219.00,156.00 L221.00,152.50 L223.00,152.20 L225.00,155.00 L227.00,165.00 L229.00,178.00 L231.00,188.00 L233.00,195.00 L236.00,201.70 Z" fill="none" stroke="#c8c8c8" stroke-width="0.6" stroke-linejoin="round" opacity="0.7"/>
<path d="M194.60,201.70 L196.20,199.50 L197.40,198.50 L198.60,200.20 L200.40,201.20 L202.20,199.50 L203.60,196.00 L205.00,192.00 L206.40,186.00 L208.00,180.00 L209.60,175.00 L211.00,170.00 L212.20,166.80 L213.20,163.00 L214.20,158.50 L215.20,154.50 L216.20,152.50 L217.20,152.20 L218.20,155.50 L219.20,159.00 L220.20,161.50 L221.10,164.20 L222.00,160.00 L223.00,156.60 L224.00,155.20 L224.80,156.10 L225.80,160.00 L226.80,166.00 L227.80,172.50 L229.00,179.00 L230.20,184.00 L231.40,189.00 L232.60,194.30 L233.80,198.50 L235.40,201.70 Z" fill="none" stroke="#5e2c7e" stroke-width="1.15" stroke-linejoin="round"/>
<path d="M194.80,201.70 L195.80,194.00 L196.80,184.00 L197.80,172.00 L198.80,160.00 L199.80,151.00 L200.60,148.20 L201.40,148.40 L202.40,152.00 L203.60,158.00 L205.00,166.00 L206.60,176.00 L208.40,186.00 L210.40,194.00 L212.20,199.00 L214.00,201.70" fill="none" stroke="#525c76" stroke-width="1.05" stroke-linejoin="round" stroke-dasharray="2.6,1.4"/>
<line x1="181.70" y1="201.40" x2="247.20" y2="201.40" stroke="#6a4a80" stroke-width="0.8" stroke-dasharray="1.5,2.5" opacity="0.8"/>
<rect x="181.70" y="137.00" width="65.50" height="64.70" fill="none" stroke="#000" stroke-width="1.3"/>
<line x1="178.70" y1="201.70" x2="181.70" y2="201.70" stroke="#000" stroke-width="0.9"/>
<line x1="180.10" y1="198.59" x2="181.70" y2="198.59" stroke="#000" stroke-width="0.7"/>
<line x1="180.10" y1="195.49" x2="181.70" y2="195.49" stroke="#000" stroke-width="0.7"/>
<line x1="180.10" y1="192.38" x2="181.70" y2="192.38" stroke="#000" stroke-width="0.7"/>
<line x1="178.70" y1="189.28" x2="181.70" y2="189.28" stroke="#000" stroke-width="0.9"/>
<line x1="180.10" y1="186.18" x2="181.70" y2="186.18" stroke="#000" stroke-width="0.7"/>
<line x1="180.10" y1="183.07" x2="181.70" y2="183.07" stroke="#000" stroke-width="0.7"/>
<line x1="180.10" y1="179.97" x2="181.70" y2="179.97" stroke="#000" stroke-width="0.7"/>
<line x1="178.70" y1="176.86" x2="181.70" y2="176.86" stroke="#000" stroke-width="0.9"/>
<line x1="180.10" y1="173.75" x2="181.70" y2="173.75" stroke="#000" stroke-width="0.7"/>
<line x1="180.10" y1="170.65" x2="181.70" y2="170.65" stroke="#000" stroke-width="0.7"/>
<line x1="180.10" y1="167.54" x2="181.70" y2="167.54" stroke="#000" stroke-width="0.7"/>
<line x1="178.70" y1="164.44" x2="181.70" y2="164.44" stroke="#000" stroke-width="0.9"/>
<line x1="180.10" y1="161.34" x2="181.70" y2="161.34" stroke="#000" stroke-width="0.7"/>
<line x1="180.10" y1="158.23" x2="181.70" y2="158.23" stroke="#000" stroke-width="0.7"/>
<line x1="180.10" y1="155.12" x2="181.70" y2="155.12" stroke="#000" stroke-width="0.7"/>
<line x1="178.70" y1="152.02" x2="181.70" y2="152.02" stroke="#000" stroke-width="0.9"/>
<line x1="180.10" y1="148.91" x2="181.70" y2="148.91" stroke="#000" stroke-width="0.7"/>
<line x1="180.10" y1="145.81" x2="181.70" y2="145.81" stroke="#000" stroke-width="0.7"/>
<line x1="180.10" y1="142.70" x2="181.70" y2="142.70" stroke="#000" stroke-width="0.7"/>
<line x1="178.70" y1="139.60" x2="181.70" y2="139.60" stroke="#000" stroke-width="0.9"/>
<line x1="185.35" y1="201.70" x2="185.35" y2="204.30" stroke="#000" stroke-width="1.0"/>
<line x1="196.13" y1="201.70" x2="196.13" y2="204.30" stroke="#000" stroke-width="1.0"/>
<line x1="206.80" y1="201.70" x2="206.80" y2="204.30" stroke="#000" stroke-width="1.0"/>
<line x1="225.17" y1="201.70" x2="225.17" y2="204.30" stroke="#000" stroke-width="1.0"/>
<line x1="240.37" y1="201.70" x2="240.37" y2="204.30" stroke="#000" stroke-width="1.0"/>
<line x1="212.33" y1="201.70" x2="212.33" y2="203.20" stroke="#000" stroke-width="0.7"/>
<line x1="229.75" y1="201.70" x2="229.75" y2="203.20" stroke="#000" stroke-width="0.7"/>
<line x1="215.57" y1="201.70" x2="215.57" y2="203.20" stroke="#000" stroke-width="0.7"/>
<line x1="232.43" y1="201.70" x2="232.43" y2="203.20" stroke="#000" stroke-width="0.7"/>
<line x1="217.86" y1="201.70" x2="217.86" y2="203.20" stroke="#000" stroke-width="0.7"/>
<line x1="234.32" y1="201.70" x2="234.32" y2="203.20" stroke="#000" stroke-width="0.7"/>
<line x1="219.64" y1="201.70" x2="219.64" y2="203.20" stroke="#000" stroke-width="0.7"/>
<line x1="235.80" y1="201.70" x2="235.80" y2="203.20" stroke="#000" stroke-width="0.7"/>
<line x1="221.10" y1="201.70" x2="221.10" y2="203.20" stroke="#000" stroke-width="0.7"/>
<line x1="237.00" y1="201.70" x2="237.00" y2="203.20" stroke="#000" stroke-width="0.7"/>
<line x1="222.33" y1="201.70" x2="222.33" y2="203.20" stroke="#000" stroke-width="0.7"/>
<line x1="238.02" y1="201.70" x2="238.02" y2="203.20" stroke="#000" stroke-width="0.7"/>
<line x1="223.39" y1="201.70" x2="223.39" y2="203.20" stroke="#000" stroke-width="0.7"/>
<line x1="238.90" y1="201.70" x2="238.90" y2="203.20" stroke="#000" stroke-width="0.7"/>
<line x1="224.33" y1="201.70" x2="224.33" y2="203.20" stroke="#000" stroke-width="0.7"/>
<line x1="239.68" y1="201.70" x2="239.68" y2="203.20" stroke="#000" stroke-width="0.7"/>
<line x1="187.51" y1="201.70" x2="187.51" y2="203.20" stroke="#000" stroke-width="0.7"/>
<line x1="198.26" y1="201.70" x2="198.26" y2="203.20" stroke="#000" stroke-width="0.7"/>
<line x1="189.66" y1="201.70" x2="189.66" y2="203.20" stroke="#000" stroke-width="0.7"/>
<line x1="200.40" y1="201.70" x2="200.40" y2="203.20" stroke="#000" stroke-width="0.7"/>
<line x1="191.82" y1="201.70" x2="191.82" y2="203.20" stroke="#000" stroke-width="0.7"/>
<line x1="202.53" y1="201.70" x2="202.53" y2="203.20" stroke="#000" stroke-width="0.7"/>
<line x1="193.97" y1="201.70" x2="193.97" y2="203.20" stroke="#000" stroke-width="0.7"/>
<line x1="204.67" y1="201.70" x2="204.67" y2="203.20" stroke="#000" stroke-width="0.7"/>
<rect x="194.73" y="202.10" width="2.80" height="1.80" fill="#000"/>
<line x1="33.80" y1="211.40" x2="35.80" y2="211.40" stroke="#231f20" stroke-width="0.7"/>
<text x="36.80" y="213.60" font-size="7.0" fill="#231f20" textLength="7.00" lengthAdjust="spacingAndGlyphs">10</text>
<text x="44.10" y="211.08" font-size="4.76" fill="#231f20">3</text>
<text x="48.90" y="213.60" font-size="7.0" textLength="3.50" lengthAdjust="spacingAndGlyphs">0</text>
<text x="57.80" y="213.60" font-size="7.0" fill="#231f20" textLength="6.60" lengthAdjust="spacingAndGlyphs">10</text>
<text x="64.70" y="211.08" font-size="4.76" fill="#231f20">3</text>
<text x="76.70" y="213.60" font-size="7.0" fill="#231f20" textLength="6.40" lengthAdjust="spacingAndGlyphs">10</text>
<text x="83.40" y="211.08" font-size="4.76" fill="#231f20">4</text>
<text x="92.80" y="213.60" font-size="7.0" fill="#231f20" textLength="6.50" lengthAdjust="spacingAndGlyphs">10</text>
<text x="99.60" y="211.08" font-size="4.76" fill="#231f20">5</text>
<text x="0" y="0" font-size="9.0" text-anchor="middle" textLength="61.50" lengthAdjust="spacingAndGlyphs" transform="translate(15.44 169.15) rotate(-90)">Normalized counts</text>
<text x="64.60" y="31.60" font-size="9.8" textLength="15.60" lengthAdjust="spacingAndGlyphs">0 hr</text>
<text x="134.80" y="31.60" font-size="9.8" textLength="21.00" lengthAdjust="spacingAndGlyphs">24 hr</text>
<text x="206.60" y="31.60" font-size="9.8" textLength="21.00" lengthAdjust="spacingAndGlyphs">48 hr</text>
<text x="39.60" y="124.80" font-size="8.6" textLength="16.20" lengthAdjust="spacingAndGlyphs">Fc&#947;RI</text>
<line x1="59.40" y1="121.70" x2="243.00" y2="121.70" stroke="#000" stroke-width="1.2"/>
<path d="M240.80,118.40 L249.00,121.70 L240.80,125.00 L242.40,121.70 Z" fill="#000"/>
<text x="32.40" y="227.30" font-size="8.6" textLength="23.20" lengthAdjust="spacingAndGlyphs">Fc&#947;RIIb</text>
<line x1="59.20" y1="224.20" x2="243.30" y2="224.20" stroke="#000" stroke-width="1.2"/>
<path d="M241.10,220.90 L249.30,224.20 L241.10,227.50 L242.70,224.20 Z" fill="#000"/>
<rect x="302.90" y="54.57" width="6.20" height="43.83" fill="#c7c5ca"/>
<rect x="313.20" y="86.68" width="6.20" height="11.72" fill="#6aaa3f"/>
<rect x="323.60" y="56.74" width="6.20" height="41.66" fill="#c7c5ca"/>
<rect x="333.80" y="72.36" width="6.20" height="26.04" fill="#6aaa3f"/>
<rect x="344.10" y="56.09" width="6.20" height="42.31" fill="#c7c5ca"/>
<line x1="347.20" y1="53.48" x2="347.20" y2="56.09" stroke="#000" stroke-width="0.8"/>
<line x1="345.60" y1="53.48" x2="348.80" y2="53.48" stroke="#000" stroke-width="0.8"/>
<rect x="354.40" y="49.79" width="6.20" height="48.61" fill="#6aaa3f"/>
<circle cx="305.20" cy="52.40" r="1.55" fill="#000"/>
<circle cx="303.90" cy="54.40" r="1.55" fill="#000"/>
<circle cx="307.70" cy="58.50" r="1.55" fill="#000"/>
<circle cx="314.60" cy="86.50" r="1.55" fill="#000"/>
<circle cx="316.20" cy="86.70" r="1.55" fill="#000"/>
<circle cx="317.80" cy="86.60" r="1.55" fill="#000"/>
<circle cx="319.00" cy="86.80" r="1.55" fill="#000"/>
<circle cx="326.30" cy="45.90" r="1.55" fill="#000"/>
<circle cx="326.30" cy="51.70" r="1.55" fill="#000"/>
<circle cx="324.70" cy="56.00" r="1.55" fill="#000"/>
<circle cx="326.50" cy="57.90" r="1.55" fill="#000"/>
<circle cx="328.40" cy="59.50" r="1.55" fill="#000"/>
<circle cx="325.60" cy="54.40" r="1.55" fill="#000"/>
<circle cx="336.40" cy="66.50" r="1.55" fill="#000"/>
<circle cx="335.80" cy="70.20" r="1.55" fill="#000"/>
<circle cx="335.00" cy="72.60" r="1.55" fill="#000"/>
<circle cx="337.20" cy="73.60" r="1.55" fill="#000"/>
<circle cx="338.40" cy="75.80" r="1.55" fill="#000"/>
<circle cx="336.60" cy="72.00" r="1.55" fill="#000"/>
<circle cx="337.60" cy="77.00" r="1.55" fill="#000"/>
<circle cx="345.40" cy="51.80" r="1.55" fill="#000"/>
<circle cx="348.70" cy="52.40" r="1.55" fill="#000"/>
<circle cx="347.00" cy="60.40" r="1.55" fill="#000"/>
<circle cx="357.20" cy="45.70" r="1.55" fill="#000"/>
<circle cx="355.40" cy="49.50" r="1.55" fill="#000"/>
<circle cx="359.10" cy="53.40" r="1.55" fill="#000"/>
<line x1="298.70" y1="32.80" x2="298.70" y2="99.00" stroke="#000" stroke-width="1.2"/>
<line x1="298.10" y1="98.40" x2="364.70" y2="98.40" stroke="#000" stroke-width="1.2"/>
<line x1="295.70" y1="98.40" x2="298.70" y2="98.40" stroke="#000" stroke-width="1.1"/>
<text x="293.60" y="101.10" font-size="7.6" text-anchor="end" textLength="9.50" lengthAdjust="spacingAndGlyphs">0.0</text>
<line x1="295.70" y1="76.70" x2="298.70" y2="76.70" stroke="#000" stroke-width="1.1"/>
<text x="293.60" y="79.40" font-size="7.6" text-anchor="end" textLength="9.50" lengthAdjust="spacingAndGlyphs">0.5</text>
<line x1="295.70" y1="55.00" x2="298.70" y2="55.00" stroke="#000" stroke-width="1.1"/>
<text x="293.60" y="57.70" font-size="7.6" text-anchor="end" textLength="9.50" lengthAdjust="spacingAndGlyphs">1.0</text>
<line x1="295.70" y1="33.30" x2="298.70" y2="33.30" stroke="#000" stroke-width="1.1"/>
<text x="293.60" y="36.00" font-size="7.6" text-anchor="end" textLength="9.50" lengthAdjust="spacingAndGlyphs">1.5</text>
<line x1="305.30" y1="48.50" x2="315.90" y2="48.50" stroke="#000" stroke-width="1.0"/>
<line x1="305.30" y1="47.20" x2="305.30" y2="50.10" stroke="#000" stroke-width="0.9"/>
<line x1="315.90" y1="47.20" x2="315.90" y2="50.10" stroke="#000" stroke-width="0.9"/>
<circle cx="306.78" cy="45.50" r="0.82" fill="#222"/>
<circle cx="309.33" cy="45.50" r="0.82" fill="#222"/>
<circle cx="311.88" cy="45.50" r="0.82" fill="#222"/>
<circle cx="314.43" cy="45.50" r="0.82" fill="#222"/>
<line x1="326.30" y1="42.00" x2="337.00" y2="42.00" stroke="#000" stroke-width="1.0"/>
<line x1="326.30" y1="40.70" x2="326.30" y2="43.60" stroke="#000" stroke-width="0.9"/>
<line x1="337.00" y1="40.70" x2="337.00" y2="43.60" stroke="#000" stroke-width="0.9"/>
<circle cx="327.82" cy="39.00" r="0.82" fill="#222"/>
<circle cx="330.38" cy="39.00" r="0.82" fill="#222"/>
<circle cx="332.93" cy="39.00" r="0.82" fill="#222"/>
<circle cx="335.47" cy="39.00" r="0.82" fill="#222"/>
<line x1="346.40" y1="41.30" x2="357.60" y2="41.30" stroke="#000" stroke-width="1.0"/>
<line x1="346.40" y1="40.00" x2="346.40" y2="42.90" stroke="#000" stroke-width="0.9"/>
<line x1="357.60" y1="40.00" x2="357.60" y2="42.90" stroke="#000" stroke-width="0.9"/>
<text x="352.00" y="39.70" font-size="6.0" text-anchor="middle" textLength="6.00" lengthAdjust="spacingAndGlyphs" fill="#444">ns</text>
<text x="0" y="0" font-size="9.2" text-anchor="middle" textLength="16.80" lengthAdjust="spacingAndGlyphs" transform="translate(266.21 63.30) rotate(-90)">Fc&#947;RI</text>
<text x="0" y="0" font-size="9.2" text-anchor="middle" textLength="43.00" lengthAdjust="spacingAndGlyphs" transform="translate(279.01 64.50) rotate(-90)">relative &#916;MFI</text>
<text x="267.70" y="107.70" font-size="7.2" textLength="25.40" lengthAdjust="spacingAndGlyphs" stroke="#231f20" stroke-width="0.22">1&#176; Feed:</text>
<line x1="305.10" y1="105.50" x2="307.50" y2="105.50" stroke="#000" stroke-width="0.8"/>
<text x="316.20" y="107.70" font-size="7.2" text-anchor="middle">+</text>
<line x1="325.40" y1="105.50" x2="327.80" y2="105.50" stroke="#000" stroke-width="0.8"/>
<text x="336.30" y="107.70" font-size="7.2" text-anchor="middle">+</text>
<line x1="345.70" y1="105.50" x2="348.10" y2="105.50" stroke="#000" stroke-width="0.8"/>
<text x="356.60" y="107.70" font-size="7.2" text-anchor="middle">+</text>
<line x1="303.50" y1="111.90" x2="320.10" y2="111.90" stroke="#000" stroke-width="1.2"/>
<line x1="323.80" y1="111.90" x2="340.50" y2="111.90" stroke="#000" stroke-width="1.2"/>
<line x1="344.60" y1="111.90" x2="361.20" y2="111.90" stroke="#000" stroke-width="1.2"/>
<text x="311.60" y="121.50" font-size="7.6000000000000005" text-anchor="middle">0</text>
<text x="332.40" y="121.50" font-size="7.6000000000000005" text-anchor="middle">24</text>
<text x="352.70" y="121.50" font-size="7.6000000000000005" text-anchor="middle">48</text>
<text x="310.00" y="134.00" font-size="9.0" textLength="44.30" lengthAdjust="spacingAndGlyphs">Recovery (hrs)</text>
<rect x="303.20" y="173.43" width="6.00" height="41.27" fill="#c7c5ca"/>
<rect x="313.10" y="194.51" width="6.00" height="20.19" fill="#55246c"/>
<rect x="323.80" y="170.36" width="6.00" height="44.34" fill="#c7c5ca"/>
<rect x="333.70" y="180.46" width="6.00" height="34.24" fill="#55246c"/>
<rect x="344.20" y="171.24" width="6.00" height="43.46" fill="#c7c5ca"/>
<line x1="347.20" y1="166.41" x2="347.20" y2="171.24" stroke="#000" stroke-width="0.8"/>
<line x1="345.60" y1="166.41" x2="348.80" y2="166.41" stroke="#000" stroke-width="0.8"/>
<rect x="354.10" y="168.60" width="6.00" height="46.09" fill="#55246c"/>
<line x1="357.10" y1="162.46" x2="357.10" y2="168.60" stroke="#000" stroke-width="0.8"/>
<line x1="355.50" y1="162.46" x2="358.70" y2="162.46" stroke="#000" stroke-width="0.8"/>
<circle cx="305.80" cy="165.50" r="1.55" fill="#000"/>
<circle cx="304.50" cy="171.20" r="1.55" fill="#000"/>
<circle cx="307.80" cy="175.20" r="1.55" fill="#000"/>
<circle cx="314.60" cy="193.40" r="1.55" fill="#000"/>
<circle cx="316.60" cy="194.30" r="1.55" fill="#000"/>
<circle cx="318.40" cy="196.20" r="1.55" fill="#000"/>
<circle cx="325.70" cy="165.50" r="1.55" fill="#000"/>
<circle cx="324.60" cy="169.80" r="1.55" fill="#000"/>
<circle cx="327.20" cy="168.40" r="1.55" fill="#000"/>
<circle cx="328.20" cy="172.00" r="1.55" fill="#000"/>
<circle cx="326.80" cy="173.80" r="1.55" fill="#000"/>
<circle cx="326.50" cy="179.30" r="1.55" fill="#000"/>
<circle cx="336.80" cy="171.70" r="1.55" fill="#000"/>
<circle cx="337.10" cy="176.10" r="1.55" fill="#000"/>
<circle cx="335.50" cy="180.10" r="1.55" fill="#000"/>
<circle cx="338.60" cy="179.50" r="1.55" fill="#000"/>
<circle cx="335.60" cy="185.60" r="1.55" fill="#000"/>
<circle cx="338.00" cy="186.20" r="1.55" fill="#000"/>
<circle cx="336.80" cy="183.40" r="1.55" fill="#000"/>
<circle cx="334.60" cy="184.00" r="1.55" fill="#000"/>
<circle cx="346.60" cy="162.20" r="1.55" fill="#000"/>
<circle cx="346.60" cy="171.20" r="1.55" fill="#000"/>
<circle cx="346.60" cy="179.30" r="1.55" fill="#000"/>
<circle cx="357.40" cy="158.10" r="1.55" fill="#000"/>
<circle cx="357.40" cy="166.30" r="1.55" fill="#000"/>
<circle cx="357.40" cy="179.30" r="1.55" fill="#000"/>
<line x1="299.40" y1="148.35" x2="299.40" y2="215.30" stroke="#000" stroke-width="1.2"/>
<line x1="298.80" y1="214.70" x2="365.60" y2="214.70" stroke="#000" stroke-width="1.2"/>
<line x1="296.40" y1="214.70" x2="299.40" y2="214.70" stroke="#000" stroke-width="1.1"/>
<text x="294.60" y="217.40" font-size="7.6" text-anchor="end" textLength="9.50" lengthAdjust="spacingAndGlyphs">0.0</text>
<line x1="296.40" y1="192.75" x2="299.40" y2="192.75" stroke="#000" stroke-width="1.1"/>
<text x="294.60" y="195.45" font-size="7.6" text-anchor="end" textLength="9.50" lengthAdjust="spacingAndGlyphs">0.5</text>
<line x1="296.40" y1="170.80" x2="299.40" y2="170.80" stroke="#000" stroke-width="1.1"/>
<text x="294.60" y="173.50" font-size="7.6" text-anchor="end" textLength="9.50" lengthAdjust="spacingAndGlyphs">1.0</text>
<line x1="296.40" y1="148.85" x2="299.40" y2="148.85" stroke="#000" stroke-width="1.1"/>
<text x="294.60" y="151.55" font-size="7.6" text-anchor="end" textLength="9.50" lengthAdjust="spacingAndGlyphs">1.5</text>
<line x1="307.40" y1="161.80" x2="318.50" y2="161.80" stroke="#000" stroke-width="1.0"/>
<line x1="307.40" y1="160.50" x2="307.40" y2="163.40" stroke="#000" stroke-width="0.9"/>
<line x1="318.50" y1="160.50" x2="318.50" y2="163.40" stroke="#000" stroke-width="0.9"/>
<circle cx="311.60" cy="158.80" r="0.82" fill="#222"/>
<circle cx="314.30" cy="158.80" r="0.82" fill="#222"/>
<line x1="325.30" y1="161.80" x2="336.60" y2="161.80" stroke="#000" stroke-width="1.0"/>
<line x1="325.30" y1="160.50" x2="325.30" y2="163.40" stroke="#000" stroke-width="0.9"/>
<line x1="336.60" y1="160.50" x2="336.60" y2="163.40" stroke="#000" stroke-width="0.9"/>
<circle cx="328.25" cy="158.80" r="0.82" fill="#222"/>
<circle cx="330.95" cy="158.80" r="0.82" fill="#222"/>
<circle cx="333.65" cy="158.80" r="0.82" fill="#222"/>
<line x1="346.50" y1="155.60" x2="357.80" y2="155.60" stroke="#000" stroke-width="1.0"/>
<line x1="346.50" y1="154.30" x2="346.50" y2="157.20" stroke="#000" stroke-width="0.9"/>
<line x1="357.80" y1="154.30" x2="357.80" y2="157.20" stroke="#000" stroke-width="0.9"/>
<text x="352.15" y="154.00" font-size="6.0" text-anchor="middle" textLength="6.00" lengthAdjust="spacingAndGlyphs" fill="#444">ns</text>
<text x="0" y="0" font-size="9.2" text-anchor="middle" textLength="24.50" lengthAdjust="spacingAndGlyphs" transform="translate(266.71 179.60) rotate(-90)">Fc&#947;RIIb</text>
<text x="0" y="0" font-size="9.2" text-anchor="middle" textLength="43.00" lengthAdjust="spacingAndGlyphs" transform="translate(278.61 180.60) rotate(-90)">relative &#916;MFI</text>
<text x="268.00" y="223.80" font-size="7.2" textLength="25.40" lengthAdjust="spacingAndGlyphs" stroke="#231f20" stroke-width="0.22">1&#176; Feed:</text>
<line x1="305.10" y1="221.60" x2="307.50" y2="221.60" stroke="#000" stroke-width="0.8"/>
<text x="316.20" y="223.80" font-size="7.2" text-anchor="middle">+</text>
<line x1="325.60" y1="221.60" x2="328.00" y2="221.60" stroke="#000" stroke-width="0.8"/>
<text x="336.70" y="223.80" font-size="7.2" text-anchor="middle">+</text>
<line x1="346.00" y1="221.60" x2="348.40" y2="221.60" stroke="#000" stroke-width="0.8"/>
<text x="357.10" y="223.80" font-size="7.2" text-anchor="middle">+</text>
<line x1="303.80" y1="227.20" x2="320.30" y2="227.20" stroke="#000" stroke-width="1.2"/>
<line x1="324.00" y1="227.20" x2="340.60" y2="227.20" stroke="#000" stroke-width="1.2"/>
<line x1="344.60" y1="227.20" x2="361.20" y2="227.20" stroke="#000" stroke-width="1.2"/>
<text x="311.80" y="237.90" font-size="7.6000000000000005" text-anchor="middle">0</text>
<text x="332.00" y="237.90" font-size="7.6000000000000005" text-anchor="middle">24</text>
<text x="352.20" y="237.90" font-size="7.6000000000000005" text-anchor="middle">48</text>
<text x="310.40" y="249.60" font-size="9.0" textLength="44.30" lengthAdjust="spacingAndGlyphs">Recovery (hrs)</text>
<rect x="416.80" y="107.21" width="9.00" height="18.39" fill="#6aaa3f"/>
<rect x="432.90" y="95.64" width="9.00" height="29.96" fill="#55246c"/>
<rect x="449.10" y="86.10" width="9.00" height="39.50" fill="#6aaa3f"/>
<rect x="464.90" y="74.53" width="9.00" height="51.07" fill="#55246c"/>
<rect x="480.90" y="50.69" width="9.00" height="74.91" fill="#6aaa3f"/>
<line x1="485.40" y1="45.24" x2="485.40" y2="50.69" stroke="#000" stroke-width="0.8"/>
<line x1="483.80" y1="45.24" x2="487.00" y2="45.24" stroke="#000" stroke-width="0.8"/>
<rect x="497.10" y="54.09" width="9.00" height="71.50" fill="#55246c"/>
<line x1="501.60" y1="43.88" x2="501.60" y2="54.09" stroke="#000" stroke-width="0.8"/>
<line x1="500.00" y1="43.88" x2="503.20" y2="43.88" stroke="#000" stroke-width="0.8"/>
<circle cx="418.40" cy="107.40" r="2.15" fill="#000"/>
<circle cx="420.40" cy="107.60" r="2.15" fill="#000"/>
<circle cx="422.40" cy="107.40" r="2.15" fill="#000"/>
<circle cx="424.40" cy="107.60" r="2.15" fill="#000"/>
<circle cx="434.30" cy="93.40" r="2.15" fill="#000"/>
<circle cx="437.50" cy="95.40" r="2.15" fill="#000"/>
<circle cx="440.50" cy="98.00" r="2.15" fill="#000"/>
<circle cx="453.10" cy="77.30" r="2.15" fill="#000"/>
<circle cx="449.60" cy="82.20" r="2.15" fill="#000"/>
<circle cx="450.50" cy="84.20" r="2.15" fill="#000"/>
<circle cx="451.50" cy="87.20" r="2.15" fill="#000"/>
<circle cx="454.50" cy="89.00" r="2.15" fill="#000"/>
<circle cx="455.20" cy="86.00" r="2.15" fill="#000"/>
<circle cx="452.60" cy="85.60" r="2.15" fill="#000"/>
<circle cx="469.30" cy="59.50" r="2.15" fill="#000"/>
<circle cx="469.30" cy="67.40" r="2.15" fill="#000"/>
<circle cx="467.30" cy="72.40" r="2.15" fill="#000"/>
<circle cx="472.30" cy="71.40" r="2.15" fill="#000"/>
<circle cx="466.80" cy="76.00" r="2.15" fill="#000"/>
<circle cx="467.30" cy="81.30" r="2.15" fill="#000"/>
<circle cx="469.80" cy="81.60" r="2.15" fill="#000"/>
<circle cx="472.30" cy="82.30" r="2.15" fill="#000"/>
<circle cx="485.10" cy="42.70" r="2.15" fill="#000"/>
<circle cx="483.10" cy="49.60" r="2.15" fill="#000"/>
<circle cx="488.10" cy="55.60" r="2.15" fill="#000"/>
<circle cx="501.30" cy="38.80" r="2.15" fill="#000"/>
<circle cx="501.30" cy="51.60" r="2.15" fill="#000"/>
<circle cx="501.30" cy="70.40" r="2.15" fill="#000"/>
<line x1="410.50" y1="22.95" x2="410.50" y2="126.20" stroke="#000" stroke-width="1.2"/>
<line x1="409.90" y1="125.60" x2="509.60" y2="125.60" stroke="#000" stroke-width="1.2"/>
<line x1="407.50" y1="125.60" x2="410.50" y2="125.60" stroke="#000" stroke-width="1.1"/>
<text x="404.50" y="128.30" font-size="7.6" text-anchor="end" textLength="9.50" lengthAdjust="spacingAndGlyphs">0.0</text>
<line x1="407.50" y1="91.55" x2="410.50" y2="91.55" stroke="#000" stroke-width="1.1"/>
<text x="404.50" y="94.25" font-size="7.6" text-anchor="end" textLength="9.50" lengthAdjust="spacingAndGlyphs">0.5</text>
<line x1="407.50" y1="57.50" x2="410.50" y2="57.50" stroke="#000" stroke-width="1.1"/>
<text x="404.50" y="60.20" font-size="7.6" text-anchor="end" textLength="9.50" lengthAdjust="spacingAndGlyphs">1.0</text>
<line x1="407.50" y1="23.45" x2="410.50" y2="23.45" stroke="#000" stroke-width="1.1"/>
<text x="404.50" y="26.15" font-size="7.6" text-anchor="end" textLength="9.50" lengthAdjust="spacingAndGlyphs">1.5</text>
<line x1="419.90" y1="84.70" x2="436.70" y2="84.70" stroke="#000" stroke-width="1.0"/>
<line x1="419.90" y1="83.40" x2="419.90" y2="86.30" stroke="#000" stroke-width="0.9"/>
<line x1="436.70" y1="83.40" x2="436.70" y2="86.30" stroke="#000" stroke-width="0.9"/>
<circle cx="426.95" cy="81.70" r="0.82" fill="#222"/>
<circle cx="429.65" cy="81.70" r="0.82" fill="#222"/>
<line x1="453.50" y1="52.10" x2="470.30" y2="52.10" stroke="#000" stroke-width="1.0"/>
<line x1="453.50" y1="50.80" x2="453.50" y2="53.70" stroke="#000" stroke-width="0.9"/>
<line x1="470.30" y1="50.80" x2="470.30" y2="53.70" stroke="#000" stroke-width="0.9"/>
<circle cx="460.55" cy="49.10" r="0.82" fill="#222"/>
<circle cx="463.25" cy="49.10" r="0.82" fill="#222"/>
<line x1="485.10" y1="31.50" x2="501.90" y2="31.50" stroke="#000" stroke-width="1.0"/>
<line x1="485.10" y1="30.20" x2="485.10" y2="33.10" stroke="#000" stroke-width="0.9"/>
<line x1="501.90" y1="30.20" x2="501.90" y2="33.10" stroke="#000" stroke-width="0.9"/>
<text x="493.50" y="29.90" font-size="6.0" text-anchor="middle" textLength="6.00" lengthAdjust="spacingAndGlyphs" fill="#444">ns</text>
<text x="0" y="0" font-size="9.4" text-anchor="middle" textLength="47.50" lengthAdjust="spacingAndGlyphs" transform="translate(387.98 73.60) rotate(-90)">Relative &#916;MFI</text>
<rect x="414.10" y="27.00" width="6.00" height="5.80" fill="#6aaa3f"/>
<rect x="414.20" y="37.00" width="5.80" height="5.80" fill="#55246c"/>
<text x="424.00" y="31.60" font-size="6.4" textLength="13.00" lengthAdjust="spacingAndGlyphs">Fc&#947;RI</text>
<text x="424.00" y="42.40" font-size="6.4" textLength="18.50" lengthAdjust="spacingAndGlyphs">Fc&#947;RIIb</text>
<text x="379.20" y="135.00" font-size="7.2" textLength="25.00" lengthAdjust="spacingAndGlyphs" stroke="#231f20" stroke-width="0.22">1&#176; Feed:</text>
<text x="421.00" y="135.00" font-size="7.2" text-anchor="middle">+</text>
<text x="436.90" y="135.00" font-size="7.2" text-anchor="middle">+</text>
<text x="453.60" y="135.00" font-size="7.2" text-anchor="middle">+</text>
<text x="469.80" y="135.00" font-size="7.2" text-anchor="middle">+</text>
<text x="485.70" y="135.00" font-size="7.2" text-anchor="middle">+</text>
<text x="501.90" y="135.00" font-size="7.2" text-anchor="middle">+</text>
<line x1="416.80" y1="139.50" x2="441.90" y2="139.50" stroke="#000" stroke-width="1.2"/>
<line x1="448.90" y1="139.50" x2="474.00" y2="139.50" stroke="#000" stroke-width="1.2"/>
<line x1="481.00" y1="139.50" x2="506.10" y2="139.50" stroke="#000" stroke-width="1.2"/>
<text x="428.80" y="149.20" font-size="7.6000000000000005" text-anchor="middle">0</text>
<text x="461.40" y="149.20" font-size="7.6000000000000005" text-anchor="middle">24</text>
<text x="493.00" y="149.20" font-size="7.6000000000000005" text-anchor="middle">48</text>
<text x="439.70" y="161.40" font-size="9.0" textLength="44.10" lengthAdjust="spacingAndGlyphs">Recovery (hrs)</text>
<path d="M40.30,306.90 C40.67,307.00 41.78,306.60 42.50,307.50 C43.22,308.40 44.60,310.65 44.60,312.30 C44.60,313.95 43.22,316.48 42.50,317.40 C41.78,318.32 40.67,317.73 40.30,317.80" fill="none" stroke="#9a9a9a" stroke-width="0.6" opacity="0.9"/>
<path d="M40.30,309.00 C40.55,309.10 41.32,309.05 41.80,309.60 C42.28,310.15 43.20,311.32 43.20,312.30 C43.20,313.28 42.28,314.88 41.80,315.50 C41.32,316.12 40.55,315.92 40.30,316.00" fill="none" stroke="#bbb" stroke-width="0.5" opacity="0.8"/>
<path d="M40.30,324.70 C40.65,325.25 41.68,326.12 42.40,328.00 C43.12,329.88 44.12,333.00 44.60,336.00 C45.08,339.00 45.27,342.67 45.30,346.00 C45.33,349.33 45.12,353.00 44.80,356.00 C44.48,359.00 44.03,361.97 43.40,364.00 C42.77,366.03 41.40,367.50 41.00,368.20" fill="none" stroke="#9a9a9a" stroke-width="0.6" opacity="0.9"/>
<path d="M40.30,330.00 C40.55,330.67 41.30,331.50 41.80,334.00 C42.30,336.50 43.07,341.33 43.30,345.00 C43.53,348.67 43.48,352.67 43.20,356.00 C42.92,359.33 41.87,363.50 41.60,365.00" fill="none" stroke="#555" stroke-width="0.7" opacity="0.9"/>
<path d="M40.30,338.00 C40.45,339.33 41.03,343.00 41.20,346.00 C41.37,349.00 41.42,353.33 41.30,356.00 C41.18,358.67 40.63,361.00 40.50,362.00" fill="none" stroke="#bbb" stroke-width="0.5" opacity="0.8"/>
<path d="M45.20,345.00 C46.05,343.53 48.20,341.15 50.00,340.20 C51.80,339.25 54.17,339.57 56.00,339.30 C57.83,339.03 59.38,338.85 61.00,338.60 C62.62,338.35 64.30,337.57 65.70,337.80 C67.10,338.03 68.57,338.72 69.40,340.00 C70.23,341.28 70.70,343.50 70.70,345.50 C70.70,347.50 70.23,349.82 69.40,352.00 C68.57,354.18 67.52,356.90 65.70,358.60 C63.88,360.30 60.82,361.43 58.50,362.20 C56.18,362.97 53.68,363.35 51.80,363.20 C49.92,363.05 48.27,362.67 47.20,361.30 C46.13,359.93 45.78,357.05 45.40,355.00 C45.02,352.95 44.93,350.67 44.90,349.00 C44.87,347.33 44.35,346.47 45.20,345.00 Z" fill="none" stroke="#ababab" stroke-width="0.55" opacity="1.0"/>
<path d="M47.88,346.20 C48.56,345.03 50.28,343.12 51.72,342.36 C53.16,341.60 55.05,341.85 56.52,341.64 C57.99,341.43 59.23,341.28 60.52,341.08 C61.81,340.88 63.16,340.25 64.28,340.44 C65.40,340.63 66.57,341.17 67.24,342.20 C67.91,343.23 68.28,345.00 68.28,346.60 C68.28,348.20 67.91,350.05 67.24,351.80 C66.57,353.55 65.73,355.72 64.28,357.08 C62.83,358.44 60.37,359.35 58.52,359.96 C56.67,360.57 54.67,360.88 53.16,360.76 C51.65,360.64 50.33,360.33 49.48,359.24 C48.63,358.15 48.35,355.84 48.04,354.20 C47.73,352.56 47.67,350.73 47.64,349.40 C47.61,348.07 47.20,347.37 47.88,346.20 Z" fill="none" stroke="#ababab" stroke-width="0.55" opacity="1.0"/>
<path d="M50.56,347.40 C51.07,346.52 52.36,345.09 53.44,344.52 C54.52,343.95 55.94,344.14 57.04,343.98 C58.14,343.82 59.07,343.71 60.04,343.56 C61.01,343.41 62.02,342.94 62.86,343.08 C63.70,343.22 64.58,343.63 65.08,344.40 C65.58,345.17 65.86,346.50 65.86,347.70 C65.86,348.90 65.58,350.29 65.08,351.60 C64.58,352.91 63.95,354.54 62.86,355.56 C61.77,356.58 59.93,357.26 58.54,357.72 C57.15,358.18 55.65,358.41 54.52,358.32 C53.39,358.23 52.40,358.00 51.76,357.18 C51.12,356.36 50.91,354.63 50.68,353.40 C50.45,352.17 50.40,350.80 50.38,349.80 C50.36,348.80 50.05,348.28 50.56,347.40 Z" fill="none" stroke="#ababab" stroke-width="0.55" opacity="1.0"/>
<path d="M52.97,348.48 C53.33,347.86 54.23,346.86 54.99,346.46 C55.74,346.06 56.74,346.20 57.51,346.09 C58.28,345.97 58.93,345.90 59.61,345.79 C60.29,345.69 60.99,345.36 61.58,345.46 C62.17,345.55 62.79,345.84 63.14,346.38 C63.49,346.92 63.68,347.85 63.68,348.69 C63.68,349.53 63.49,350.50 63.14,351.42 C62.79,352.34 62.34,353.48 61.58,354.19 C60.82,354.91 59.53,355.38 58.56,355.70 C57.59,356.03 56.53,356.19 55.74,356.12 C54.95,356.06 54.26,355.90 53.81,355.33 C53.36,354.75 53.22,353.54 53.06,352.68 C52.89,351.82 52.86,350.86 52.85,350.16 C52.83,349.46 52.62,349.10 52.97,348.48 Z" fill="none" stroke="#ababab" stroke-width="0.55" opacity="1.0"/>
<path d="M86.50,295.60 C87.62,295.67 89.15,296.03 90.00,296.80 C90.85,297.57 91.40,298.92 91.60,300.20 C91.80,301.48 90.63,303.20 91.20,304.50 C91.77,305.80 93.77,306.48 95.00,308.00 C96.23,309.52 98.30,311.83 98.60,313.60 C98.90,315.37 97.47,317.03 96.80,318.60 C96.13,320.17 94.77,321.43 94.60,323.00 C94.43,324.57 95.43,326.27 95.80,328.00 C96.17,329.73 95.60,332.33 96.80,333.40 C98.00,334.47 101.07,333.80 103.00,334.40 C104.93,335.00 107.07,335.73 108.40,337.00 C109.73,338.27 110.70,340.17 111.00,342.00 C111.30,343.83 111.20,346.10 110.20,348.00 C109.20,349.90 107.20,351.73 105.00,353.40 C102.80,355.07 99.50,356.67 97.00,358.00 C94.50,359.33 92.38,360.73 90.00,361.40 C87.62,362.07 84.70,362.40 82.70,362.00 C80.70,361.60 79.08,360.67 78.00,359.00 C76.92,357.33 76.45,354.67 76.20,352.00 C75.95,349.33 76.12,345.83 76.50,343.00 C76.88,340.17 77.75,337.42 78.50,335.00 C79.25,332.58 80.72,330.20 81.00,328.50 C81.28,326.80 80.97,326.15 80.20,324.80 C79.43,323.45 77.37,322.00 76.40,320.40 C75.43,318.80 74.40,316.93 74.40,315.20 C74.40,313.47 75.30,311.60 76.40,310.00 C77.50,308.40 80.17,307.35 81.00,305.60 C81.83,303.85 81.02,301.03 81.40,299.50 C81.78,297.97 82.45,297.05 83.30,296.40 C84.15,295.75 85.38,295.53 86.50,295.60 Z" fill="none" stroke="#bd5757" stroke-width="0.55" opacity="1.0"/>
<path d="M86.50,297.40 C87.32,297.47 88.68,297.80 89.30,298.40 C89.92,299.00 90.15,299.87 90.20,301.00 C90.25,302.13 89.07,303.93 89.60,305.20 C90.13,306.47 92.23,307.20 93.40,308.60 C94.57,310.00 96.30,311.97 96.60,313.60 C96.90,315.23 95.80,316.90 95.20,318.40 C94.60,319.90 93.20,321.00 93.00,322.60 C92.80,324.20 93.70,326.07 94.00,328.00 C94.30,329.93 93.63,332.87 94.80,334.20 C95.97,335.53 99.05,335.27 101.00,336.00 C102.95,336.73 105.13,337.43 106.50,338.60 C107.87,339.77 108.92,341.40 109.20,343.00 C109.48,344.60 109.17,346.60 108.20,348.20 C107.23,349.80 105.43,351.20 103.40,352.60 C101.37,354.00 98.30,355.40 96.00,356.60 C93.70,357.80 91.70,359.20 89.60,359.80 C87.50,360.40 85.07,360.57 83.40,360.20 C81.73,359.83 80.47,359.03 79.60,357.60 C78.73,356.17 78.40,353.97 78.20,351.60 C78.00,349.23 78.07,346.07 78.40,343.40 C78.73,340.73 79.50,338.00 80.20,335.60 C80.90,333.20 82.30,330.83 82.60,329.00 C82.90,327.17 82.73,326.10 82.00,324.60 C81.27,323.10 79.10,321.57 78.20,320.00 C77.30,318.43 76.60,316.77 76.60,315.20 C76.60,313.63 77.23,312.03 78.20,310.60 C79.17,309.17 81.60,308.27 82.40,306.60 C83.20,304.93 82.67,302.03 83.00,300.60 C83.33,299.17 83.82,298.53 84.40,298.00 C84.98,297.47 85.68,297.33 86.50,297.40 Z" fill="none" stroke="#cc8080" stroke-width="0.5" opacity="1.0"/>
<path d="M75.86,315.22 C75.77,313.67 76.97,312.06 77.79,310.82 C78.61,309.59 79.73,308.54 80.78,307.83 C81.84,307.13 82.93,306.66 84.13,306.60 C85.33,306.54 86.71,306.89 88.00,307.48 C89.29,308.07 90.61,309.06 91.87,310.12 C93.13,311.18 95.19,312.50 95.57,313.82 C95.95,315.14 94.95,316.75 94.16,318.04 C93.37,319.33 92.08,320.68 90.82,321.56 C89.55,322.44 88.03,323.06 86.59,323.32 C85.15,323.58 83.57,323.67 82.19,323.14 C80.81,322.62 79.38,321.47 78.32,320.15 C77.26,318.83 75.94,316.78 75.86,315.22 Z" fill="none" stroke="#bd5757" stroke-width="0.5" opacity="0.9"/>
<path d="M76.74,315.24 C76.66,313.87 77.72,312.44 78.45,311.34 C79.18,310.25 80.17,309.32 81.10,308.69 C82.04,308.07 83.00,307.65 84.07,307.60 C85.13,307.55 86.36,307.86 87.50,308.38 C88.64,308.90 89.81,309.78 90.93,310.72 C92.05,311.66 93.87,312.83 94.21,314.00 C94.55,315.17 93.66,316.60 92.96,317.74 C92.26,318.88 91.11,320.08 90.00,320.86 C88.88,321.64 87.53,322.19 86.25,322.42 C84.98,322.65 83.57,322.73 82.35,322.26 C81.13,321.80 79.86,320.78 78.92,319.61 C77.98,318.44 76.81,316.62 76.74,315.24 Z" fill="none" stroke="#bd5757" stroke-width="0.5" opacity="0.9"/>
<path d="M77.53,315.26 C77.46,314.04 78.40,312.78 79.05,311.81 C79.69,310.85 80.56,310.02 81.39,309.47 C82.22,308.91 83.07,308.55 84.01,308.50 C84.96,308.45 86.04,308.73 87.05,309.19 C88.06,309.65 89.10,310.43 90.09,311.26 C91.08,312.09 92.69,313.12 92.98,314.16 C93.28,315.19 92.50,316.46 91.88,317.47 C91.26,318.48 90.25,319.54 89.26,320.23 C88.27,320.92 87.07,321.40 85.95,321.61 C84.82,321.82 83.58,321.89 82.50,321.47 C81.41,321.06 80.29,320.16 79.46,319.13 C78.63,318.09 77.60,316.48 77.53,315.26 Z" fill="none" stroke="#bd5757" stroke-width="0.5" opacity="0.9"/>
<path d="M78.32,315.28 C78.26,314.22 79.08,313.12 79.64,312.28 C80.20,311.44 80.96,310.72 81.68,310.24 C82.40,309.76 83.14,309.44 83.96,309.40 C84.78,309.36 85.72,309.60 86.60,310.00 C87.48,310.40 88.38,311.08 89.24,311.80 C90.10,312.52 91.50,313.42 91.76,314.32 C92.02,315.22 91.34,316.32 90.80,317.20 C90.26,318.08 89.38,319.00 88.52,319.60 C87.66,320.20 86.62,320.62 85.64,320.80 C84.66,320.98 83.58,321.04 82.64,320.68 C81.70,320.32 80.72,319.54 80.00,318.64 C79.28,317.74 78.38,316.34 78.32,315.28 Z" fill="none" stroke="#bd5757" stroke-width="0.5" opacity="0.9"/>
<path d="M79.02,315.30 C78.97,314.38 79.68,313.42 80.17,312.70 C80.65,311.97 81.31,311.34 81.94,310.93 C82.56,310.51 83.20,310.23 83.91,310.20 C84.62,310.17 85.44,310.37 86.20,310.72 C86.96,311.07 87.74,311.66 88.49,312.28 C89.23,312.90 90.45,313.68 90.67,314.46 C90.90,315.24 90.31,316.20 89.84,316.96 C89.37,317.72 88.61,318.52 87.86,319.04 C87.12,319.56 86.22,319.92 85.37,320.08 C84.52,320.24 83.58,320.29 82.77,319.98 C81.95,319.66 81.10,318.99 80.48,318.21 C79.86,317.43 79.08,316.21 79.02,315.30 Z" fill="none" stroke="#bd5757" stroke-width="0.5" opacity="0.9"/>
<path d="M79.73,315.31 C79.68,314.53 80.29,313.73 80.70,313.11 C81.11,312.50 81.66,311.97 82.19,311.62 C82.72,311.26 83.26,311.03 83.86,311.00 C84.47,310.97 85.15,311.15 85.80,311.44 C86.45,311.73 87.11,312.23 87.74,312.76 C88.37,313.29 89.39,313.95 89.58,314.61 C89.77,315.27 89.28,316.07 88.88,316.72 C88.48,317.37 87.84,318.04 87.21,318.48 C86.58,318.92 85.81,319.23 85.10,319.36 C84.38,319.49 83.59,319.54 82.90,319.27 C82.21,319.01 81.49,318.44 80.96,317.78 C80.43,317.12 79.77,316.09 79.73,315.31 Z" fill="none" stroke="#bd5757" stroke-width="0.5" opacity="0.9"/>
<path d="M80.43,315.33 C80.40,314.69 80.89,314.03 81.22,313.53 C81.56,313.02 82.02,312.59 82.45,312.30 C82.88,312.02 83.32,311.82 83.82,311.80 C84.31,311.78 84.87,311.92 85.40,312.16 C85.93,312.40 86.47,312.81 86.98,313.24 C87.50,313.67 88.34,314.21 88.50,314.75 C88.65,315.29 88.24,315.95 87.92,316.48 C87.60,317.01 87.07,317.56 86.55,317.92 C86.04,318.28 85.41,318.53 84.82,318.64 C84.24,318.75 83.59,318.78 83.02,318.57 C82.46,318.35 81.87,317.88 81.44,317.34 C81.01,316.80 80.47,315.96 80.43,315.33 Z" fill="none" stroke="#bd5757" stroke-width="0.5" opacity="0.9"/>
<path d="M81.14,315.34 C81.11,314.85 81.49,314.34 81.75,313.94 C82.01,313.55 82.37,313.22 82.70,312.99 C83.04,312.77 83.39,312.62 83.77,312.60 C84.15,312.58 84.59,312.69 85.00,312.88 C85.41,313.07 85.83,313.38 86.23,313.72 C86.63,314.06 87.29,314.48 87.41,314.90 C87.53,315.32 87.21,315.83 86.96,316.24 C86.71,316.65 86.30,317.08 85.90,317.36 C85.49,317.64 85.01,317.84 84.55,317.92 C84.09,318.00 83.59,318.03 83.15,317.86 C82.71,317.70 82.26,317.33 81.92,316.91 C81.58,316.49 81.16,315.84 81.14,315.34 Z" fill="none" stroke="#bd5757" stroke-width="0.5" opacity="0.9"/>
<path d="M82.60,324.00 C82.53,324.67 82.15,326.67 82.20,328.00 C82.25,329.33 82.87,330.67 82.90,332.00 C82.93,333.33 82.48,335.33 82.40,336.00" fill="none" stroke="#cc8080" stroke-width="0.5" opacity="0.9"/>
<path d="M84.60,324.00 C84.53,324.67 84.15,326.67 84.20,328.00 C84.25,329.33 84.87,330.67 84.90,332.00 C84.93,333.33 84.48,335.33 84.40,336.00" fill="none" stroke="#cc8080" stroke-width="0.5" opacity="0.9"/>
<path d="M87.00,324.00 C86.93,324.67 86.55,326.67 86.60,328.00 C86.65,329.33 87.27,330.67 87.30,332.00 C87.33,333.33 86.88,335.33 86.80,336.00" fill="none" stroke="#cc8080" stroke-width="0.5" opacity="0.9"/>
<path d="M89.60,324.00 C89.53,324.67 89.15,326.67 89.20,328.00 C89.25,329.33 89.87,330.67 89.90,332.00 C89.93,333.33 89.48,335.33 89.40,336.00" fill="none" stroke="#cc8080" stroke-width="0.5" opacity="0.9"/>
<path d="M92.20,324.00 C92.13,324.67 91.75,326.67 91.80,328.00 C91.85,329.33 92.47,330.67 92.50,332.00 C92.53,333.33 92.08,335.33 92.00,336.00" fill="none" stroke="#cc8080" stroke-width="0.5" opacity="0.9"/>
<path d="M83.80,338.00 C84.75,336.33 86.55,335.73 88.00,335.00 C89.45,334.27 90.67,333.80 92.50,333.60 C94.33,333.40 96.83,333.53 99.00,333.80 C101.17,334.07 103.83,334.42 105.50,335.20 C107.17,335.98 108.18,337.32 109.00,338.50 C109.82,339.68 110.57,340.80 110.40,342.30 C110.23,343.80 109.00,345.87 108.00,347.50 C107.00,349.13 105.98,350.68 104.40,352.10 C102.82,353.52 100.48,354.73 98.50,356.00 C96.52,357.27 94.42,358.77 92.50,359.70 C90.58,360.63 88.63,361.23 87.00,361.60 C85.37,361.97 83.67,362.50 82.70,361.90 C81.73,361.30 81.38,359.45 81.20,358.00 C81.02,356.55 81.42,355.37 81.60,353.20 C81.78,351.03 81.93,347.53 82.30,345.00 C82.67,342.47 82.85,339.67 83.80,338.00 Z" fill="#d9d5ea" stroke="#414a9c" stroke-width="0.6" opacity="0.85"/>
<path d="M85.22,338.65 C86.08,337.15 87.69,336.61 89.00,335.95 C90.31,335.29 91.40,334.87 93.05,334.69 C94.70,334.51 96.95,334.63 98.90,334.87 C100.85,335.11 103.25,335.43 104.75,336.13 C106.25,336.83 107.17,338.04 107.90,339.10 C108.64,340.17 109.31,341.17 109.16,342.52 C109.01,343.87 107.90,345.73 107.00,347.20 C106.10,348.67 105.19,350.07 103.76,351.34 C102.34,352.62 100.23,353.71 98.45,354.85 C96.67,355.99 94.78,357.34 93.05,358.18 C91.32,359.02 89.57,359.56 88.10,359.89 C86.63,360.22 85.10,360.70 84.23,360.16 C83.36,359.62 83.05,357.95 82.88,356.65 C82.71,355.34 83.07,354.28 83.24,352.33 C83.41,350.38 83.54,347.23 83.87,344.95 C84.20,342.67 84.36,340.15 85.22,338.65 Z" fill="none" stroke="#414a9c" stroke-width="0.5" opacity="0.8"/>
<path d="M87.78,339.82 C88.46,338.62 89.76,338.19 90.80,337.66 C91.84,337.13 92.72,336.80 94.04,336.65 C95.36,336.51 97.16,336.60 98.72,336.80 C100.28,336.99 102.20,337.24 103.40,337.80 C104.60,338.37 105.33,339.33 105.92,340.18 C106.51,341.03 107.05,341.84 106.93,342.92 C106.81,344.00 105.92,345.48 105.20,346.66 C104.48,347.84 103.75,348.95 102.61,349.97 C101.47,350.99 99.79,351.87 98.36,352.78 C96.93,353.69 95.42,354.77 94.04,355.44 C92.66,356.12 91.26,356.55 90.08,356.81 C88.90,357.08 87.68,357.46 86.98,357.03 C86.29,356.60 86.04,355.26 85.90,354.22 C85.77,353.18 86.06,352.32 86.19,350.76 C86.32,349.20 86.43,346.68 86.70,344.86 C86.96,343.04 87.09,341.02 87.78,339.82 Z" fill="none" stroke="#414a9c" stroke-width="0.5" opacity="0.8"/>
<path d="M90.33,340.99 C90.84,340.09 91.82,339.77 92.60,339.37 C93.38,338.97 94.04,338.72 95.03,338.61 C96.02,338.51 97.37,338.58 98.54,338.72 C99.71,338.87 101.15,339.06 102.05,339.48 C102.95,339.90 103.50,340.62 103.94,341.26 C104.38,341.90 104.79,342.50 104.70,343.31 C104.61,344.12 103.94,345.24 103.40,346.12 C102.86,347.00 102.31,347.84 101.46,348.60 C100.60,349.37 99.34,350.03 98.27,350.71 C97.20,351.39 96.06,352.20 95.03,352.71 C94.00,353.21 92.94,353.54 92.06,353.73 C91.18,353.93 90.26,354.22 89.74,353.90 C89.22,353.57 89.03,352.57 88.93,351.79 C88.83,351.01 89.04,350.37 89.14,349.20 C89.24,348.03 89.32,346.14 89.52,344.77 C89.72,343.40 89.82,341.89 90.33,340.99 Z" fill="none" stroke="#414a9c" stroke-width="0.5" opacity="0.8"/>
<path d="M92.89,342.16 C93.23,341.56 93.88,341.34 94.40,341.08 C94.92,340.82 95.36,340.65 96.02,340.58 C96.68,340.50 97.58,340.55 98.36,340.65 C99.14,340.74 100.10,340.87 100.70,341.15 C101.30,341.43 101.67,341.91 101.96,342.34 C102.25,342.77 102.52,343.17 102.46,343.71 C102.40,344.25 101.96,344.99 101.60,345.58 C101.24,346.17 100.87,346.73 100.30,347.24 C99.73,347.75 98.89,348.18 98.18,348.64 C97.47,349.10 96.71,349.64 96.02,349.97 C95.33,350.31 94.63,350.52 94.04,350.66 C93.45,350.79 92.84,350.98 92.49,350.76 C92.14,350.55 92.02,349.88 91.95,349.36 C91.89,348.84 92.03,348.41 92.10,347.63 C92.16,346.85 92.22,345.59 92.35,344.68 C92.48,343.77 92.55,342.76 92.89,342.16 Z" fill="none" stroke="#414a9c" stroke-width="0.5" opacity="0.8"/>
<path d="M84.51,338.32 C85.41,336.74 87.12,336.17 88.50,335.48 C89.88,334.78 91.03,334.34 92.78,334.15 C94.52,333.96 96.89,334.08 98.95,334.34 C101.01,334.59 103.54,334.92 105.12,335.66 C106.71,336.41 107.67,337.68 108.45,338.80 C109.23,339.92 109.94,340.99 109.78,342.41 C109.62,343.84 108.45,345.80 107.50,347.35 C106.55,348.90 105.58,350.37 104.08,351.72 C102.58,353.07 100.36,354.22 98.47,355.43 C96.59,356.63 94.60,358.05 92.78,358.94 C90.95,359.83 89.10,360.40 87.55,360.75 C86.00,361.09 84.38,361.60 83.47,361.03 C82.55,360.46 82.21,358.70 82.04,357.32 C81.87,355.95 82.25,354.82 82.42,352.76 C82.59,350.71 82.74,347.38 83.08,344.98 C83.43,342.57 83.61,339.91 84.51,338.32 Z" fill="none" stroke="#bd5757" stroke-width="0.5" opacity="0.8"/>
<path d="M86.50,339.24 C87.27,337.88 88.73,337.40 89.90,336.81 C91.07,336.21 92.06,335.83 93.55,335.67 C95.03,335.51 97.06,335.62 98.81,335.83 C100.56,336.05 102.73,336.33 104.08,336.97 C105.42,337.60 106.25,338.68 106.91,339.64 C107.57,340.60 108.18,341.50 108.04,342.72 C107.91,343.93 106.91,345.61 106.10,346.93 C105.29,348.25 104.47,349.51 103.18,350.66 C101.90,351.80 100.01,352.79 98.41,353.81 C96.80,354.84 95.10,356.06 93.55,356.81 C91.99,357.57 90.41,358.05 89.09,358.35 C87.77,358.65 86.39,359.08 85.61,358.59 C84.82,358.11 84.54,356.61 84.39,355.44 C84.24,354.26 84.57,353.30 84.72,351.55 C84.86,349.79 84.99,346.96 85.28,344.90 C85.58,342.85 85.73,340.59 86.50,339.24 Z" fill="none" stroke="#bd5757" stroke-width="0.5" opacity="0.8"/>
<path d="M89.05,340.40 C89.65,339.35 90.79,338.98 91.70,338.51 C92.61,338.05 93.38,337.76 94.53,337.63 C95.69,337.51 97.27,337.59 98.63,337.76 C99.99,337.93 101.67,338.15 102.72,338.64 C103.77,339.13 104.42,339.97 104.93,340.72 C105.44,341.47 105.92,342.17 105.81,343.11 C105.71,344.06 104.93,345.36 104.30,346.39 C103.67,347.42 103.03,348.40 102.03,349.29 C101.03,350.18 99.56,350.95 98.31,351.75 C97.07,352.54 95.74,353.49 94.53,354.08 C93.33,354.66 92.10,355.04 91.07,355.27 C90.04,355.50 88.97,355.84 88.36,355.46 C87.75,355.08 87.53,353.92 87.42,353.00 C87.30,352.09 87.55,351.35 87.67,349.98 C87.78,348.62 87.88,346.41 88.11,344.81 C88.34,343.22 88.46,341.45 89.05,340.40 Z" fill="none" stroke="#bd5757" stroke-width="0.5" opacity="0.8"/>
<path d="M91.61,341.57 C92.04,340.82 92.85,340.56 93.50,340.23 C94.15,339.90 94.70,339.69 95.53,339.60 C96.35,339.50 97.48,339.56 98.45,339.69 C99.42,339.81 100.62,339.96 101.38,340.31 C102.12,340.67 102.58,341.27 102.95,341.80 C103.32,342.33 103.66,342.83 103.58,343.51 C103.50,344.19 102.95,345.12 102.50,345.85 C102.05,346.59 101.59,347.28 100.88,347.92 C100.17,348.56 99.12,349.11 98.22,349.68 C97.33,350.25 96.39,350.92 95.53,351.34 C94.66,351.76 93.78,352.03 93.05,352.19 C92.31,352.36 91.55,352.60 91.11,352.33 C90.68,352.06 90.52,351.23 90.44,350.57 C90.36,349.92 90.54,349.39 90.62,348.42 C90.70,347.44 90.77,345.87 90.94,344.73 C91.10,343.59 91.18,342.32 91.61,341.57 Z" fill="none" stroke="#bd5757" stroke-width="0.5" opacity="0.8"/>
<path d="M94.17,342.75 C94.42,342.30 94.91,342.13 95.30,341.94 C95.69,341.74 96.02,341.61 96.52,341.56 C97.01,341.50 97.69,341.54 98.27,341.61 C98.85,341.68 99.58,341.78 100.03,341.99 C100.48,342.20 100.75,342.56 100.97,342.88 C101.19,343.20 101.39,343.50 101.35,343.91 C101.30,344.31 100.97,344.87 100.70,345.31 C100.43,345.75 100.16,346.17 99.73,346.55 C99.30,346.93 98.67,347.26 98.14,347.61 C97.60,347.95 97.03,348.35 96.52,348.60 C96.00,348.86 95.47,349.02 95.03,349.12 C94.59,349.22 94.13,349.36 93.87,349.20 C93.61,349.04 93.51,348.54 93.46,348.14 C93.41,347.75 93.52,347.43 93.57,346.85 C93.62,346.26 93.66,345.32 93.76,344.63 C93.86,343.95 93.91,343.19 94.17,342.75 Z" fill="none" stroke="#bd5757" stroke-width="0.5" opacity="0.8"/>
<path d="M96.00,334.20 C97.17,334.30 100.93,334.20 103.00,334.80 C105.07,335.40 107.20,336.55 108.40,337.80 C109.60,339.05 110.17,340.83 110.20,342.30 C110.23,343.77 108.87,345.88 108.60,346.60" fill="none" stroke="#2e2a70" stroke-width="0.7" opacity="0.8"/>
<path d="M169.80,327.60 C171.05,327.77 172.30,329.37 173.50,330.60 C174.70,331.83 175.98,333.10 177.00,335.00 C178.02,336.90 179.23,339.50 179.60,342.00 C179.97,344.50 179.80,347.67 179.20,350.00 C178.60,352.33 177.53,354.45 176.00,356.00 C174.47,357.55 172.17,358.70 170.00,359.30 C167.83,359.90 164.93,360.12 163.00,359.60 C161.07,359.08 159.40,357.97 158.40,356.20 C157.40,354.43 157.03,351.53 157.00,349.00 C156.97,346.47 157.40,343.43 158.20,341.00 C159.00,338.57 160.50,336.30 161.80,334.40 C163.10,332.50 164.67,330.73 166.00,329.60 C167.33,328.47 168.55,327.43 169.80,327.60 Z" fill="none" stroke="#ababab" stroke-width="0.5" opacity="0.95"/>
<path d="M169.67,329.91 C170.76,330.06 171.85,331.45 172.89,332.52 C173.93,333.60 175.05,334.70 175.93,336.35 C176.82,338.00 177.88,340.27 178.20,342.44 C178.51,344.62 178.37,347.37 177.85,349.40 C177.33,351.43 176.40,353.27 175.06,354.62 C173.73,355.97 171.73,356.97 169.84,357.49 C167.96,358.01 165.44,358.20 163.75,357.75 C162.07,357.30 160.62,356.33 159.75,354.80 C158.88,353.26 158.56,350.74 158.53,348.53 C158.50,346.33 158.88,343.69 159.58,341.57 C160.27,339.45 161.58,337.48 162.71,335.83 C163.84,334.18 165.20,332.64 166.36,331.65 C167.52,330.67 168.58,329.77 169.67,329.91 Z" fill="none" stroke="#ababab" stroke-width="0.5" opacity="0.95"/>
<path d="M169.55,332.05 C170.49,332.18 171.42,333.38 172.32,334.30 C173.22,335.23 174.19,336.18 174.95,337.60 C175.71,339.03 176.62,340.98 176.90,342.85 C177.18,344.73 177.05,347.10 176.60,348.85 C176.15,350.60 175.35,352.19 174.20,353.35 C173.05,354.51 171.32,355.38 169.70,355.82 C168.07,356.27 165.90,356.44 164.45,356.05 C163.00,355.66 161.75,354.82 161.00,353.50 C160.25,352.18 159.97,350.00 159.95,348.10 C159.92,346.20 160.25,343.93 160.85,342.10 C161.45,340.28 162.58,338.57 163.55,337.15 C164.53,335.72 165.70,334.40 166.70,333.55 C167.70,332.70 168.61,331.93 169.55,332.05 Z" fill="none" stroke="#ababab" stroke-width="0.5" opacity="0.95"/>
<path d="M169.44,334.01 C170.24,334.11 171.04,335.14 171.81,335.93 C172.58,336.72 173.40,337.53 174.05,338.74 C174.70,339.96 175.48,341.62 175.71,343.22 C175.95,344.82 175.84,346.85 175.46,348.34 C175.07,349.84 174.39,351.19 173.41,352.18 C172.43,353.18 170.95,353.91 169.57,354.30 C168.18,354.68 166.33,354.82 165.09,354.49 C163.85,354.16 162.78,353.44 162.14,352.31 C161.50,351.18 161.27,349.33 161.25,347.70 C161.23,346.08 161.50,344.14 162.02,342.58 C162.53,341.03 163.49,339.58 164.32,338.36 C165.15,337.14 166.15,336.01 167.01,335.29 C167.86,334.56 168.64,333.90 169.44,334.01 Z" fill="none" stroke="#ababab" stroke-width="0.5" opacity="0.95"/>
<path d="M169.34,335.79 C170.01,335.88 170.69,336.74 171.34,337.41 C171.99,338.07 172.68,338.76 173.23,339.78 C173.78,340.81 174.43,342.21 174.63,343.56 C174.83,344.91 174.74,346.62 174.42,347.88 C174.09,349.14 173.52,350.29 172.69,351.12 C171.86,351.96 170.62,352.58 169.45,352.91 C168.28,353.23 166.71,353.35 165.67,353.07 C164.62,352.79 163.72,352.19 163.18,351.23 C162.64,350.28 162.45,348.71 162.43,347.34 C162.41,345.98 162.64,344.34 163.08,343.02 C163.51,341.71 164.32,340.49 165.02,339.46 C165.72,338.43 166.57,337.48 167.29,336.87 C168.01,336.26 168.67,335.70 169.34,335.79 Z" fill="none" stroke="#ababab" stroke-width="0.5" opacity="0.95"/>
<path d="M169.24,337.57 C169.79,337.64 170.34,338.35 170.87,338.89 C171.40,339.43 171.96,339.99 172.41,340.82 C172.86,341.66 173.39,342.80 173.55,343.90 C173.71,345.00 173.64,346.40 173.38,347.42 C173.11,348.45 172.64,349.38 171.97,350.06 C171.29,350.75 170.28,351.25 169.33,351.52 C168.37,351.78 167.10,351.88 166.25,351.65 C165.40,351.42 164.66,350.93 164.22,350.15 C163.78,349.37 163.62,348.10 163.61,346.98 C163.59,345.87 163.78,344.53 164.14,343.46 C164.49,342.39 165.15,341.40 165.72,340.56 C166.29,339.72 166.98,338.95 167.57,338.45 C168.15,337.95 168.69,337.49 169.24,337.57 Z" fill="none" stroke="#ababab" stroke-width="0.5" opacity="0.95"/>
<path d="M169.15,339.17 C169.59,339.23 170.02,339.79 170.44,340.22 C170.87,340.65 171.31,341.09 171.67,341.76 C172.03,342.43 172.45,343.33 172.58,344.21 C172.71,345.08 172.65,346.19 172.44,347.01 C172.23,347.83 171.86,348.57 171.32,349.11 C170.78,349.65 169.98,350.05 169.22,350.26 C168.46,350.48 167.45,350.55 166.77,350.37 C166.09,350.19 165.51,349.80 165.16,349.18 C164.81,348.56 164.68,347.55 164.67,346.66 C164.66,345.77 164.81,344.71 165.09,343.86 C165.37,343.01 165.90,342.21 166.35,341.55 C166.81,340.88 167.35,340.27 167.82,339.87 C168.29,339.47 168.71,339.11 169.15,339.17 Z" fill="none" stroke="#ababab" stroke-width="0.5" opacity="0.95"/>
<path d="M169.06,340.77 C169.38,340.82 169.71,341.23 170.02,341.55 C170.33,341.87 170.67,342.20 170.93,342.70 C171.20,343.19 171.51,343.87 171.61,344.52 C171.70,345.17 171.66,345.99 171.50,346.60 C171.35,347.20 171.07,347.75 170.67,348.16 C170.27,348.56 169.68,348.86 169.11,349.01 C168.55,349.17 167.79,349.23 167.29,349.09 C166.79,348.96 166.36,348.67 166.10,348.21 C165.84,347.75 165.74,346.99 165.73,346.34 C165.72,345.68 165.84,344.89 166.04,344.26 C166.25,343.62 166.64,343.03 166.98,342.54 C167.32,342.05 167.73,341.59 168.07,341.29 C168.42,341.00 168.74,340.73 169.06,340.77 Z" fill="none" stroke="#ababab" stroke-width="0.5" opacity="0.95"/>
<path d="M165.20,311.80 C164.93,310.97 166.10,309.83 167.00,309.40 C167.90,308.97 169.50,308.93 170.60,309.20 C171.70,309.47 173.27,310.23 173.60,311.00 C173.93,311.77 173.43,313.23 172.60,313.80 C171.77,314.37 169.83,314.73 168.60,314.40 C167.37,314.07 165.47,312.63 165.20,311.80 Z" fill="none" stroke="#9a9a9a" stroke-width="0.55" opacity="1.0"/>
<path d="M167.00,311.80 C166.97,311.40 167.63,310.80 168.20,310.60 C168.77,310.40 169.80,310.43 170.40,310.60 C171.00,310.77 171.77,311.20 171.80,311.60 C171.83,312.00 171.17,312.77 170.60,313.00 C170.03,313.23 169.00,313.20 168.40,313.00 C167.80,312.80 167.03,312.20 167.00,311.80 Z" fill="none" stroke="#bbb" stroke-width="0.5" opacity="0.8"/>
<path d="M196.20,294.20 C197.47,293.83 199.40,294.17 200.60,294.80 C201.80,295.43 203.07,296.70 203.40,298.00 C203.73,299.30 203.23,301.43 202.60,302.60 C201.97,303.77 199.87,304.02 199.60,305.00 C199.33,305.98 200.37,307.17 201.00,308.50 C201.63,309.83 203.23,311.25 203.40,313.00 C203.57,314.75 202.80,317.23 202.00,319.00 C201.20,320.77 198.97,321.77 198.60,323.60 C198.23,325.43 199.47,328.17 199.80,330.00 C200.13,331.83 199.40,333.70 200.60,334.60 C201.80,335.50 204.67,335.63 207.00,335.40 C209.33,335.17 212.23,333.27 214.60,333.20 C216.97,333.13 219.53,333.83 221.20,335.00 C222.87,336.17 224.10,338.20 224.60,340.20 C225.10,342.20 224.93,345.13 224.20,347.00 C223.47,348.87 222.23,350.30 220.20,351.40 C218.17,352.50 214.53,352.90 212.00,353.60 C209.47,354.30 207.33,354.77 205.00,355.60 C202.67,356.43 200.50,358.10 198.00,358.60 C195.50,359.10 192.50,359.13 190.00,358.60 C187.50,358.07 184.83,356.83 183.00,355.40 C181.17,353.97 179.73,352.00 179.00,350.00 C178.27,348.00 178.40,345.63 178.60,343.40 C178.80,341.17 179.70,338.67 180.20,336.60 C180.70,334.53 181.60,332.93 181.60,331.00 C181.60,329.07 180.90,327.00 180.20,325.00 C179.50,323.00 177.83,320.93 177.40,319.00 C176.97,317.07 177.00,315.13 177.60,313.40 C178.20,311.67 179.60,309.77 181.00,308.60 C182.40,307.43 184.23,306.87 186.00,306.40 C187.77,305.93 190.40,306.70 191.60,305.80 C192.80,304.90 192.97,302.47 193.20,301.00 C193.43,299.53 192.50,298.13 193.00,297.00 C193.50,295.87 194.93,294.57 196.20,294.20 Z" fill="none" stroke="#bd5757" stroke-width="0.55" opacity="1.0"/>
<path d="M194.60,299.40 C194.62,298.70 194.95,297.62 195.50,297.15 C196.05,296.67 197.10,296.52 197.90,296.55 C198.70,296.58 199.80,296.80 200.30,297.30 C200.80,297.80 201.00,298.83 200.90,299.55 C200.80,300.27 200.30,301.20 199.70,301.65 C199.10,302.10 198.02,302.30 197.30,302.25 C196.57,302.20 195.80,301.83 195.35,301.35 C194.90,300.88 194.57,300.10 194.60,299.40 Z" fill="none" stroke="#bd5757" stroke-width="0.5" opacity="1.0"/>
<path d="M195.60,299.40 C195.62,298.93 195.83,298.22 196.20,297.90 C196.57,297.58 197.27,297.48 197.80,297.50 C198.33,297.52 199.07,297.67 199.40,298.00 C199.73,298.33 199.87,299.02 199.80,299.50 C199.73,299.98 199.40,300.60 199.00,300.90 C198.60,301.20 197.88,301.33 197.40,301.30 C196.92,301.27 196.40,301.02 196.10,300.70 C195.80,300.38 195.58,299.87 195.60,299.40 Z" fill="none" stroke="#bd5757" stroke-width="0.5" opacity="1.0"/>
<path d="M179.85,315.93 C179.99,314.52 180.79,312.44 181.78,311.18 C182.78,309.91 184.19,308.89 185.83,308.36 C187.47,307.83 189.79,307.74 191.64,308.01 C193.49,308.27 195.45,309.03 196.92,309.94 C198.39,310.85 200.03,312.06 200.44,313.46 C200.85,314.87 200.12,316.93 199.38,318.39 C198.65,319.86 197.62,321.44 196.04,322.26 C194.46,323.09 191.87,323.32 189.88,323.32 C187.89,323.32 185.57,322.88 184.07,322.26 C182.58,321.65 181.61,320.68 180.90,319.62 C180.20,318.57 179.70,317.34 179.85,315.93 Z" fill="none" stroke="#bd5757" stroke-width="0.5" opacity="0.9"/>
<path d="M181.10,315.86 C181.22,314.64 181.91,312.84 182.77,311.75 C183.63,310.66 184.85,309.78 186.26,309.32 C187.68,308.86 189.68,308.79 191.28,309.02 C192.88,309.24 194.57,309.90 195.84,310.69 C197.11,311.47 198.53,312.51 198.88,313.73 C199.23,314.94 198.60,316.72 197.97,317.98 C197.33,319.25 196.45,320.62 195.08,321.33 C193.71,322.04 191.48,322.24 189.76,322.24 C188.04,322.24 186.04,321.86 184.74,321.33 C183.45,320.80 182.62,319.96 182.01,319.05 C181.40,318.14 180.97,317.07 181.10,315.86 Z" fill="none" stroke="#bd5757" stroke-width="0.5" opacity="0.9"/>
<path d="M182.24,315.79 C182.35,314.75 182.93,313.21 183.67,312.28 C184.41,311.35 185.45,310.59 186.66,310.20 C187.87,309.81 189.58,309.75 190.95,309.94 C192.31,310.13 193.77,310.70 194.85,311.37 C195.93,312.04 197.15,312.93 197.45,313.97 C197.75,315.01 197.21,316.53 196.67,317.61 C196.13,318.69 195.37,319.86 194.20,320.47 C193.03,321.08 191.12,321.25 189.65,321.25 C188.18,321.25 186.47,320.92 185.36,320.47 C184.26,320.01 183.54,319.30 183.02,318.52 C182.50,317.74 182.13,316.83 182.24,315.79 Z" fill="none" stroke="#bd5757" stroke-width="0.5" opacity="0.9"/>
<path d="M183.28,315.73 C183.37,314.85 183.87,313.55 184.49,312.76 C185.11,311.97 185.99,311.33 187.02,311.00 C188.05,310.67 189.50,310.61 190.65,310.78 C191.81,310.94 193.03,311.42 193.95,311.99 C194.87,312.56 195.89,313.31 196.15,314.19 C196.41,315.07 195.95,316.35 195.49,317.27 C195.03,318.19 194.39,319.18 193.40,319.69 C192.41,320.20 190.80,320.35 189.55,320.35 C188.30,320.35 186.86,320.07 185.92,319.69 C184.99,319.31 184.38,318.70 183.94,318.04 C183.50,317.38 183.19,316.61 183.28,315.73 Z" fill="none" stroke="#bd5757" stroke-width="0.5" opacity="0.9"/>
<path d="M184.22,315.68 C184.29,314.94 184.71,313.85 185.23,313.19 C185.75,312.53 186.49,312.00 187.34,311.72 C188.20,311.44 189.41,311.40 190.38,311.54 C191.35,311.67 192.37,312.07 193.14,312.55 C193.91,313.02 194.77,313.65 194.98,314.39 C195.19,315.12 194.81,316.20 194.43,316.96 C194.04,317.73 193.51,318.56 192.68,318.99 C191.85,319.42 190.50,319.54 189.46,319.54 C188.42,319.54 187.21,319.31 186.42,318.99 C185.64,318.67 185.14,318.16 184.77,317.61 C184.40,317.06 184.14,316.41 184.22,315.68 Z" fill="none" stroke="#bd5757" stroke-width="0.5" opacity="0.9"/>
<path d="M185.15,315.62 C185.21,315.03 185.55,314.15 185.97,313.62 C186.39,313.09 186.98,312.66 187.67,312.44 C188.36,312.22 189.33,312.18 190.11,312.29 C190.89,312.40 191.71,312.72 192.33,313.11 C192.95,313.49 193.64,313.99 193.81,314.59 C193.98,315.18 193.67,316.04 193.37,316.66 C193.06,317.27 192.63,317.94 191.96,318.29 C191.29,318.63 190.21,318.73 189.37,318.73 C188.53,318.73 187.56,318.55 186.93,318.29 C186.30,318.03 185.89,317.62 185.60,317.18 C185.30,316.73 185.09,316.21 185.15,315.62 Z" fill="none" stroke="#bd5757" stroke-width="0.5" opacity="0.9"/>
<path d="M186.09,315.57 C186.13,315.12 186.39,314.46 186.70,314.06 C187.02,313.65 187.47,313.33 187.99,313.16 C188.51,312.99 189.25,312.96 189.84,313.05 C190.43,313.13 191.05,313.37 191.52,313.66 C191.99,313.95 192.51,314.34 192.64,314.78 C192.77,315.23 192.54,315.89 192.30,316.35 C192.07,316.82 191.74,317.32 191.24,317.58 C190.74,317.85 189.91,317.92 189.28,317.92 C188.65,317.92 187.91,317.78 187.43,317.58 C186.96,317.39 186.65,317.08 186.42,316.74 C186.20,316.41 186.04,316.02 186.09,315.57 Z" fill="none" stroke="#bd5757" stroke-width="0.5" opacity="0.9"/>
<path d="M182.40,324.20 C182.33,324.83 181.95,326.70 182.00,328.00 C182.05,329.30 182.67,330.67 182.70,332.00 C182.73,333.33 182.28,335.33 182.20,336.00" fill="none" stroke="#cc8080" stroke-width="0.5" opacity="0.9"/>
<path d="M184.80,324.20 C184.73,324.83 184.35,326.70 184.40,328.00 C184.45,329.30 185.07,330.67 185.10,332.00 C185.13,333.33 184.68,335.33 184.60,336.00" fill="none" stroke="#cc8080" stroke-width="0.5" opacity="0.9"/>
<path d="M187.20,324.20 C187.13,324.83 186.75,326.70 186.80,328.00 C186.85,329.30 187.47,330.67 187.50,332.00 C187.53,333.33 187.08,335.33 187.00,336.00" fill="none" stroke="#cc8080" stroke-width="0.5" opacity="0.9"/>
<path d="M189.80,324.20 C189.73,324.83 189.35,326.70 189.40,328.00 C189.45,329.30 190.07,330.67 190.10,332.00 C190.13,333.33 189.68,335.33 189.60,336.00" fill="none" stroke="#cc8080" stroke-width="0.5" opacity="0.9"/>
<path d="M192.40,324.20 C192.33,324.83 191.95,326.70 192.00,328.00 C192.05,329.30 192.67,330.67 192.70,332.00 C192.73,333.33 192.28,335.33 192.20,336.00" fill="none" stroke="#cc8080" stroke-width="0.5" opacity="0.9"/>
<path d="M195.00,324.20 C194.93,324.83 194.55,326.70 194.60,328.00 C194.65,329.30 195.27,330.67 195.30,332.00 C195.33,333.33 194.88,335.33 194.80,336.00" fill="none" stroke="#cc8080" stroke-width="0.5" opacity="0.9"/>
<path d="M197.40,324.20 C197.33,324.83 196.95,326.70 197.00,328.00 C197.05,329.30 197.67,330.67 197.70,332.00 C197.73,333.33 197.28,335.33 197.20,336.00" fill="none" stroke="#cc8080" stroke-width="0.5" opacity="0.9"/>
<path d="M180.00,353.00 C179.75,350.50 180.50,347.83 181.50,345.00 C182.50,342.17 184.25,337.80 186.00,336.00 C187.75,334.20 189.83,334.03 192.00,334.20 C194.17,334.37 197.00,336.45 199.00,337.00 C201.00,337.55 202.33,338.08 204.00,337.50 C205.67,336.92 206.67,334.25 209.00,333.50 C211.33,332.75 215.67,332.42 218.00,333.00 C220.33,333.58 221.97,335.33 223.00,337.00 C224.03,338.67 224.37,341.08 224.20,343.00 C224.03,344.92 223.37,347.00 222.00,348.50 C220.63,350.00 218.17,351.25 216.00,352.00 C213.83,352.75 211.33,352.50 209.00,353.00 C206.67,353.50 204.17,354.17 202.00,355.00 C199.83,355.83 198.33,357.17 196.00,358.00 C193.67,358.83 190.17,359.67 188.00,360.00 C185.83,360.33 184.33,361.17 183.00,360.00 C181.67,358.83 180.25,355.50 180.00,353.00 Z" fill="#d9d5ea" stroke="#414a9c" stroke-width="0.6" opacity="0.85"/>
<path d="M182.40,353.44 C182.28,351.54 182.65,348.53 183.32,346.08 C183.99,343.63 185.01,340.25 186.45,338.72 C187.89,337.19 190.19,336.73 191.97,336.88 C193.75,337.03 195.83,338.26 197.12,339.64 C198.41,341.02 199.45,343.32 199.70,345.16 C199.94,347.00 199.57,348.99 198.59,350.68 C197.61,352.37 195.53,354.11 193.81,355.28 C192.09,356.45 189.91,357.30 188.29,357.67 C186.66,358.04 185.04,358.19 184.06,357.49 C183.07,356.78 182.52,355.34 182.40,353.44 Z" fill="none" stroke="#bd5757" stroke-width="0.5" opacity="0.85"/>
<path d="M184.00,352.32 C183.90,350.75 184.20,348.27 184.76,346.24 C185.32,344.21 186.15,341.43 187.34,340.16 C188.53,338.89 190.43,338.51 191.90,338.64 C193.37,338.77 195.10,339.78 196.16,340.92 C197.22,342.06 198.09,343.96 198.29,345.48 C198.49,347.00 198.19,348.65 197.38,350.04 C196.57,351.43 194.84,352.88 193.42,353.84 C192.01,354.80 190.21,355.51 188.86,355.82 C187.52,356.12 186.18,356.25 185.37,355.66 C184.56,355.08 184.10,353.89 184.00,352.32 Z" fill="none" stroke="#bd5757" stroke-width="0.5" opacity="0.85"/>
<path d="M185.60,351.20 C185.52,349.96 185.76,348.00 186.20,346.40 C186.64,344.80 187.30,342.60 188.24,341.60 C189.18,340.60 190.68,340.30 191.84,340.40 C193.00,340.50 194.36,341.30 195.20,342.20 C196.04,343.10 196.72,344.60 196.88,345.80 C197.04,347.00 196.80,348.30 196.16,349.40 C195.52,350.50 194.16,351.64 193.04,352.40 C191.92,353.16 190.50,353.72 189.44,353.96 C188.38,354.20 187.32,354.30 186.68,353.84 C186.04,353.38 185.68,352.44 185.60,351.20 Z" fill="none" stroke="#bd5757" stroke-width="0.5" opacity="0.85"/>
<path d="M187.20,350.08 C187.14,349.17 187.32,347.73 187.64,346.56 C187.96,345.39 188.45,343.77 189.14,343.04 C189.83,342.31 190.93,342.09 191.78,342.16 C192.63,342.23 193.62,342.82 194.24,343.48 C194.86,344.14 195.35,345.24 195.47,346.12 C195.59,347.00 195.41,347.95 194.94,348.76 C194.47,349.57 193.48,350.40 192.66,350.96 C191.83,351.52 190.79,351.93 190.02,352.10 C189.24,352.28 188.46,352.35 187.99,352.02 C187.52,351.68 187.26,350.99 187.20,350.08 Z" fill="none" stroke="#bd5757" stroke-width="0.5" opacity="0.85"/>
<path d="M188.80,348.96 C188.76,348.38 188.87,347.47 189.08,346.72 C189.29,345.97 189.59,344.95 190.03,344.48 C190.47,344.01 191.17,343.87 191.71,343.92 C192.25,343.97 192.89,344.34 193.28,344.76 C193.67,345.18 193.99,345.88 194.06,346.44 C194.14,347.00 194.03,347.61 193.73,348.12 C193.43,348.63 192.79,349.17 192.27,349.52 C191.75,349.87 191.09,350.14 190.59,350.25 C190.10,350.36 189.60,350.41 189.30,350.19 C189.01,349.98 188.84,349.54 188.80,348.96 Z" fill="none" stroke="#bd5757" stroke-width="0.5" opacity="0.85"/>
<path d="M183.20,352.88 C183.09,351.14 183.42,348.40 184.04,346.16 C184.66,343.92 185.58,340.84 186.90,339.44 C188.21,338.04 190.31,337.62 191.94,337.76 C193.56,337.90 195.46,339.02 196.64,340.28 C197.82,341.54 198.77,343.64 198.99,345.32 C199.22,347.00 198.88,348.82 197.98,350.36 C197.09,351.90 195.18,353.50 193.62,354.56 C192.05,355.62 190.06,356.41 188.58,356.74 C187.09,357.08 185.61,357.22 184.71,356.58 C183.82,355.93 183.31,354.62 183.20,352.88 Z" fill="none" stroke="#414a9c" stroke-width="0.5" opacity="0.75"/>
<path d="M184.80,351.76 C184.71,350.35 184.98,348.13 185.48,346.32 C185.98,344.51 186.73,342.01 187.79,340.88 C188.86,339.75 190.56,339.41 191.87,339.52 C193.19,339.63 194.73,340.54 195.68,341.56 C196.63,342.58 197.40,344.28 197.58,345.64 C197.77,347.00 197.49,348.47 196.77,349.72 C196.04,350.97 194.50,352.26 193.23,353.12 C191.96,353.98 190.35,354.62 189.15,354.89 C187.95,355.16 186.75,355.27 186.02,354.75 C185.30,354.23 184.89,353.17 184.80,351.76 Z" fill="none" stroke="#414a9c" stroke-width="0.5" opacity="0.75"/>
<path d="M186.40,350.64 C186.33,349.57 186.54,347.87 186.92,346.48 C187.30,345.09 187.87,343.19 188.69,342.32 C189.50,341.45 190.80,341.19 191.81,341.28 C192.81,341.37 193.99,342.06 194.72,342.84 C195.45,343.62 196.04,344.92 196.18,345.96 C196.31,347.00 196.11,348.13 195.55,349.08 C195.00,350.03 193.82,351.02 192.85,351.68 C191.88,352.34 190.65,352.82 189.73,353.03 C188.81,353.24 187.89,353.33 187.34,352.93 C186.78,352.53 186.47,351.71 186.40,350.64 Z" fill="none" stroke="#414a9c" stroke-width="0.5" opacity="0.75"/>
<path d="M188.00,349.52 C187.95,348.78 188.10,347.60 188.36,346.64 C188.62,345.68 189.02,344.36 189.58,343.76 C190.15,343.16 191.05,342.98 191.74,343.04 C192.44,343.10 193.26,343.58 193.76,344.12 C194.26,344.66 194.67,345.56 194.77,346.28 C194.86,347.00 194.72,347.78 194.34,348.44 C193.95,349.10 193.14,349.78 192.46,350.24 C191.79,350.70 190.94,351.03 190.30,351.18 C189.67,351.32 189.03,351.38 188.65,351.10 C188.26,350.83 188.05,350.26 188.00,349.52 Z" fill="none" stroke="#414a9c" stroke-width="0.5" opacity="0.75"/>
<path d="M204.57,343.00 C204.30,341.05 205.33,339.19 206.46,337.96 C207.58,336.73 209.46,336.01 211.32,335.62 C213.18,335.23 215.88,335.05 217.62,335.62 C219.36,336.19 220.98,337.66 221.76,339.04 C222.54,340.42 222.60,342.34 222.30,343.90 C222.00,345.46 221.34,347.32 219.96,348.40 C218.58,349.48 216.00,350.17 214.02,350.38 C212.04,350.59 209.66,350.89 208.08,349.66 C206.50,348.43 204.84,344.95 204.57,343.00 Z" fill="none" stroke="#414a9c" stroke-width="0.5" opacity="0.8"/>
<path d="M206.28,343.00 C206.06,341.40 206.91,339.87 207.84,338.86 C208.76,337.84 210.30,337.25 211.83,336.93 C213.36,336.61 215.58,336.46 217.01,336.93 C218.44,337.40 219.77,338.61 220.42,339.74 C221.06,340.88 221.11,342.46 220.86,343.74 C220.61,345.02 220.07,346.55 218.94,347.44 C217.80,348.33 215.68,348.90 214.05,349.07 C212.42,349.24 210.46,349.49 209.17,348.48 C207.87,347.46 206.50,344.60 206.28,343.00 Z" fill="none" stroke="#414a9c" stroke-width="0.5" opacity="0.8"/>
<path d="M207.99,343.00 C207.82,341.74 208.49,340.54 209.21,339.75 C209.94,338.96 211.15,338.50 212.34,338.24 C213.54,337.99 215.28,337.88 216.40,338.24 C217.53,338.61 218.57,339.56 219.07,340.45 C219.57,341.34 219.61,342.57 219.42,343.58 C219.23,344.59 218.80,345.78 217.91,346.48 C217.02,347.18 215.36,347.62 214.08,347.76 C212.81,347.89 211.27,348.08 210.26,347.29 C209.24,346.50 208.17,344.26 207.99,343.00 Z" fill="none" stroke="#414a9c" stroke-width="0.5" opacity="0.8"/>
<path d="M209.71,343.00 C209.58,342.09 210.06,341.22 210.59,340.65 C211.11,340.07 211.99,339.74 212.86,339.56 C213.72,339.37 214.98,339.29 215.80,339.56 C216.61,339.82 217.36,340.51 217.73,341.15 C218.09,341.80 218.12,342.69 217.98,343.42 C217.84,344.15 217.53,345.02 216.89,345.52 C216.24,346.02 215.04,346.35 214.12,346.44 C213.19,346.54 212.08,346.68 211.34,346.11 C210.61,345.53 209.83,343.91 209.71,343.00 Z" fill="none" stroke="#414a9c" stroke-width="0.5" opacity="0.8"/>
<path d="M211.42,343.00 C211.34,342.44 211.64,341.90 211.96,341.54 C212.29,341.19 212.83,340.98 213.37,340.87 C213.91,340.76 214.69,340.70 215.19,340.87 C215.69,341.03 216.16,341.46 216.38,341.86 C216.61,342.25 216.63,342.81 216.54,343.26 C216.45,343.71 216.26,344.25 215.86,344.56 C215.47,344.87 214.72,345.07 214.15,345.13 C213.58,345.19 212.89,345.28 212.43,344.92 C211.98,344.57 211.50,343.56 211.42,343.00 Z" fill="none" stroke="#414a9c" stroke-width="0.5" opacity="0.8"/>
<path d="M205.43,343.00 C205.18,341.22 206.12,339.53 207.15,338.41 C208.17,337.29 209.88,336.63 211.58,336.28 C213.27,335.92 215.73,335.76 217.32,336.28 C218.90,336.80 220.38,338.13 221.09,339.39 C221.80,340.65 221.85,342.40 221.58,343.82 C221.31,345.24 220.71,346.94 219.45,347.92 C218.19,348.90 215.84,349.53 214.04,349.72 C212.23,349.92 210.06,350.19 208.62,349.07 C207.19,347.95 205.67,344.78 205.43,343.00 Z" fill="none" stroke="#bd5757" stroke-width="0.5" opacity="0.75"/>
<path d="M207.14,343.00 C206.94,341.57 207.70,340.21 208.52,339.30 C209.35,338.40 210.72,337.87 212.09,337.59 C213.45,337.30 215.43,337.17 216.71,337.59 C217.98,338.01 219.17,339.08 219.74,340.10 C220.32,341.11 220.36,342.52 220.14,343.66 C219.92,344.80 219.44,346.17 218.42,346.96 C217.41,347.75 215.52,348.26 214.07,348.41 C212.62,348.57 210.87,348.79 209.71,347.88 C208.56,346.98 207.34,344.43 207.14,343.00 Z" fill="none" stroke="#bd5757" stroke-width="0.5" opacity="0.75"/>
<path d="M208.85,343.00 C208.70,341.92 209.27,340.88 209.90,340.20 C210.52,339.52 211.57,339.12 212.60,338.90 C213.63,338.68 215.13,338.58 216.10,338.90 C217.07,339.22 217.97,340.03 218.40,340.80 C218.83,341.57 218.87,342.63 218.70,343.50 C218.53,344.37 218.17,345.40 217.40,346.00 C216.63,346.60 215.20,346.98 214.10,347.10 C213.00,347.22 211.68,347.38 210.80,346.70 C209.93,346.02 209.00,344.08 208.85,343.00 Z" fill="none" stroke="#bd5757" stroke-width="0.5" opacity="0.75"/>
<path d="M210.56,343.00 C210.46,342.26 210.85,341.56 211.28,341.10 C211.70,340.63 212.41,340.36 213.11,340.21 C213.81,340.06 214.83,340.00 215.49,340.21 C216.15,340.43 216.76,340.98 217.06,341.50 C217.35,342.03 217.37,342.75 217.26,343.34 C217.15,343.93 216.90,344.63 216.38,345.04 C215.85,345.45 214.88,345.71 214.13,345.79 C213.38,345.87 212.48,345.98 211.89,345.52 C211.29,345.05 210.66,343.74 210.56,343.00 Z" fill="none" stroke="#bd5757" stroke-width="0.5" opacity="0.75"/>
<path d="M209.00,334.20 C210.50,334.13 215.70,333.27 218.00,333.80 C220.30,334.33 221.80,335.87 222.80,337.40 C223.80,338.93 224.13,341.20 224.00,343.00 C223.87,344.80 222.33,347.33 222.00,348.20" fill="none" stroke="#2e2a70" stroke-width="0.75" opacity="0.8"/>
<rect x="40.10" y="293.10" width="77.30" height="76.30" fill="none" stroke="#8a8a8a" stroke-width="0.7"/>
<text x="25.60" y="303.60" font-size="7.2" fill="#231f20" textLength="6.80" lengthAdjust="spacingAndGlyphs">10</text>
<text x="32.70" y="301.01" font-size="4.90" fill="#231f20">5</text>
<line x1="37.60" y1="301.00" x2="40.10" y2="301.00" stroke="#000" stroke-width="0.8"/>
<text x="25.60" y="320.90" font-size="7.2" fill="#231f20" textLength="6.80" lengthAdjust="spacingAndGlyphs">10</text>
<text x="32.70" y="318.31" font-size="4.90" fill="#231f20">4</text>
<line x1="37.60" y1="318.30" x2="40.10" y2="318.30" stroke="#000" stroke-width="0.8"/>
<text x="25.60" y="339.00" font-size="7.2" fill="#231f20" textLength="6.80" lengthAdjust="spacingAndGlyphs">10</text>
<text x="32.70" y="336.41" font-size="4.90" fill="#231f20">3</text>
<line x1="37.60" y1="336.40" x2="40.10" y2="336.40" stroke="#000" stroke-width="0.8"/>
<text x="25.60" y="356.70" font-size="7.2" fill="#231f20" textLength="6.80" lengthAdjust="spacingAndGlyphs">10</text>
<text x="32.70" y="354.11" font-size="4.90" fill="#231f20">2</text>
<line x1="37.60" y1="354.10" x2="40.10" y2="354.10" stroke="#000" stroke-width="0.8"/>
<text x="31.80" y="365.40" font-size="7.2" textLength="3.60" lengthAdjust="spacingAndGlyphs">0</text>
<line x1="37.30" y1="362.80" x2="40.10" y2="362.80" stroke="#000" stroke-width="1.2"/>
<line x1="38.70" y1="348.77" x2="40.10" y2="348.77" stroke="#000" stroke-width="0.5"/>
<line x1="38.70" y1="345.65" x2="40.10" y2="345.65" stroke="#000" stroke-width="0.5"/>
<line x1="38.70" y1="343.44" x2="40.10" y2="343.44" stroke="#000" stroke-width="0.5"/>
<line x1="38.70" y1="341.73" x2="40.10" y2="341.73" stroke="#000" stroke-width="0.5"/>
<line x1="38.70" y1="340.33" x2="40.10" y2="340.33" stroke="#000" stroke-width="0.5"/>
<line x1="38.70" y1="339.14" x2="40.10" y2="339.14" stroke="#000" stroke-width="0.5"/>
<line x1="38.70" y1="338.12" x2="40.10" y2="338.12" stroke="#000" stroke-width="0.5"/>
<line x1="38.70" y1="337.21" x2="40.10" y2="337.21" stroke="#000" stroke-width="0.5"/>
<line x1="38.70" y1="330.95" x2="40.10" y2="330.95" stroke="#000" stroke-width="0.5"/>
<line x1="38.70" y1="327.76" x2="40.10" y2="327.76" stroke="#000" stroke-width="0.5"/>
<line x1="38.70" y1="325.50" x2="40.10" y2="325.50" stroke="#000" stroke-width="0.5"/>
<line x1="38.70" y1="323.75" x2="40.10" y2="323.75" stroke="#000" stroke-width="0.5"/>
<line x1="38.70" y1="322.32" x2="40.10" y2="322.32" stroke="#000" stroke-width="0.5"/>
<line x1="38.70" y1="321.10" x2="40.10" y2="321.10" stroke="#000" stroke-width="0.5"/>
<line x1="38.70" y1="320.05" x2="40.10" y2="320.05" stroke="#000" stroke-width="0.5"/>
<line x1="38.70" y1="319.13" x2="40.10" y2="319.13" stroke="#000" stroke-width="0.5"/>
<line x1="38.70" y1="313.09" x2="40.10" y2="313.09" stroke="#000" stroke-width="0.5"/>
<line x1="38.70" y1="310.05" x2="40.10" y2="310.05" stroke="#000" stroke-width="0.5"/>
<line x1="38.70" y1="307.88" x2="40.10" y2="307.88" stroke="#000" stroke-width="0.5"/>
<line x1="38.70" y1="306.21" x2="40.10" y2="306.21" stroke="#000" stroke-width="0.5"/>
<line x1="38.70" y1="304.84" x2="40.10" y2="304.84" stroke="#000" stroke-width="0.5"/>
<line x1="38.70" y1="303.68" x2="40.10" y2="303.68" stroke="#000" stroke-width="0.5"/>
<line x1="38.70" y1="302.68" x2="40.10" y2="302.68" stroke="#000" stroke-width="0.5"/>
<line x1="38.70" y1="301.79" x2="40.10" y2="301.79" stroke="#000" stroke-width="0.5"/>
<text x="45.30" y="381.90" font-size="7.2" text-anchor="middle">0</text>
<text x="54.10" y="381.90" font-size="7.2" fill="#231f20" textLength="6.60" lengthAdjust="spacingAndGlyphs">10</text>
<text x="61.00" y="379.31" font-size="4.90" fill="#231f20">2</text>
<text x="71.40" y="381.90" font-size="7.2" fill="#231f20" textLength="6.60" lengthAdjust="spacingAndGlyphs">10</text>
<text x="78.30" y="379.31" font-size="4.90" fill="#231f20">3</text>
<text x="88.70" y="381.90" font-size="7.2" fill="#231f20" textLength="6.60" lengthAdjust="spacingAndGlyphs">10</text>
<text x="95.60" y="379.31" font-size="4.90" fill="#231f20">4</text>
<text x="106.00" y="381.90" font-size="7.2" fill="#231f20" textLength="6.60" lengthAdjust="spacingAndGlyphs">10</text>
<text x="112.90" y="379.31" font-size="4.90" fill="#231f20">5</text>
<line x1="45.30" y1="369.40" x2="45.30" y2="371.80" stroke="#000" stroke-width="0.8"/>
<line x1="58.10" y1="369.40" x2="58.10" y2="371.80" stroke="#000" stroke-width="0.8"/>
<line x1="75.40" y1="369.40" x2="75.40" y2="371.80" stroke="#000" stroke-width="0.8"/>
<line x1="92.70" y1="369.40" x2="92.70" y2="371.80" stroke="#000" stroke-width="0.8"/>
<line x1="110.00" y1="369.40" x2="110.00" y2="371.80" stroke="#000" stroke-width="0.8"/>
<line x1="63.31" y1="369.40" x2="63.31" y2="370.70" stroke="#000" stroke-width="0.5"/>
<line x1="66.35" y1="369.40" x2="66.35" y2="370.70" stroke="#000" stroke-width="0.5"/>
<line x1="68.52" y1="369.40" x2="68.52" y2="370.70" stroke="#000" stroke-width="0.5"/>
<line x1="70.19" y1="369.40" x2="70.19" y2="370.70" stroke="#000" stroke-width="0.5"/>
<line x1="71.56" y1="369.40" x2="71.56" y2="370.70" stroke="#000" stroke-width="0.5"/>
<line x1="72.72" y1="369.40" x2="72.72" y2="370.70" stroke="#000" stroke-width="0.5"/>
<line x1="73.72" y1="369.40" x2="73.72" y2="370.70" stroke="#000" stroke-width="0.5"/>
<line x1="74.61" y1="369.40" x2="74.61" y2="370.70" stroke="#000" stroke-width="0.5"/>
<line x1="80.61" y1="369.40" x2="80.61" y2="370.70" stroke="#000" stroke-width="0.5"/>
<line x1="83.65" y1="369.40" x2="83.65" y2="370.70" stroke="#000" stroke-width="0.5"/>
<line x1="85.82" y1="369.40" x2="85.82" y2="370.70" stroke="#000" stroke-width="0.5"/>
<line x1="87.49" y1="369.40" x2="87.49" y2="370.70" stroke="#000" stroke-width="0.5"/>
<line x1="88.86" y1="369.40" x2="88.86" y2="370.70" stroke="#000" stroke-width="0.5"/>
<line x1="90.02" y1="369.40" x2="90.02" y2="370.70" stroke="#000" stroke-width="0.5"/>
<line x1="91.02" y1="369.40" x2="91.02" y2="370.70" stroke="#000" stroke-width="0.5"/>
<line x1="91.91" y1="369.40" x2="91.91" y2="370.70" stroke="#000" stroke-width="0.5"/>
<line x1="97.91" y1="369.40" x2="97.91" y2="370.70" stroke="#000" stroke-width="0.5"/>
<line x1="100.95" y1="369.40" x2="100.95" y2="370.70" stroke="#000" stroke-width="0.5"/>
<line x1="103.12" y1="369.40" x2="103.12" y2="370.70" stroke="#000" stroke-width="0.5"/>
<line x1="104.79" y1="369.40" x2="104.79" y2="370.70" stroke="#000" stroke-width="0.5"/>
<line x1="106.16" y1="369.40" x2="106.16" y2="370.70" stroke="#000" stroke-width="0.5"/>
<line x1="107.32" y1="369.40" x2="107.32" y2="370.70" stroke="#000" stroke-width="0.5"/>
<line x1="108.32" y1="369.40" x2="108.32" y2="370.70" stroke="#000" stroke-width="0.5"/>
<line x1="109.21" y1="369.40" x2="109.21" y2="370.70" stroke="#000" stroke-width="0.5"/>
<rect x="41.80" y="369.80" width="4.00" height="1.60" fill="#000"/>
<rect x="154.60" y="293.10" width="77.70" height="77.10" fill="none" stroke="#8a8a8a" stroke-width="0.7"/>
<text x="139.80" y="303.60" font-size="7.2" fill="#231f20" textLength="6.80" lengthAdjust="spacingAndGlyphs">10</text>
<text x="146.90" y="301.01" font-size="4.90" fill="#231f20">5</text>
<line x1="152.10" y1="301.00" x2="154.60" y2="301.00" stroke="#000" stroke-width="0.8"/>
<text x="139.80" y="320.90" font-size="7.2" fill="#231f20" textLength="6.80" lengthAdjust="spacingAndGlyphs">10</text>
<text x="146.90" y="318.31" font-size="4.90" fill="#231f20">4</text>
<line x1="152.10" y1="318.30" x2="154.60" y2="318.30" stroke="#000" stroke-width="0.8"/>
<text x="139.80" y="339.00" font-size="7.2" fill="#231f20" textLength="6.80" lengthAdjust="spacingAndGlyphs">10</text>
<text x="146.90" y="336.41" font-size="4.90" fill="#231f20">3</text>
<line x1="152.10" y1="336.40" x2="154.60" y2="336.40" stroke="#000" stroke-width="0.8"/>
<text x="139.80" y="356.70" font-size="7.2" fill="#231f20" textLength="6.80" lengthAdjust="spacingAndGlyphs">10</text>
<text x="146.90" y="354.11" font-size="4.90" fill="#231f20">2</text>
<line x1="152.10" y1="354.10" x2="154.60" y2="354.10" stroke="#000" stroke-width="0.8"/>
<text x="146.00" y="365.40" font-size="7.2" textLength="3.60" lengthAdjust="spacingAndGlyphs">0</text>
<line x1="151.80" y1="362.80" x2="154.60" y2="362.80" stroke="#000" stroke-width="1.2"/>
<line x1="153.20" y1="348.77" x2="154.60" y2="348.77" stroke="#000" stroke-width="0.5"/>
<line x1="153.20" y1="345.65" x2="154.60" y2="345.65" stroke="#000" stroke-width="0.5"/>
<line x1="153.20" y1="343.44" x2="154.60" y2="343.44" stroke="#000" stroke-width="0.5"/>
<line x1="153.20" y1="341.73" x2="154.60" y2="341.73" stroke="#000" stroke-width="0.5"/>
<line x1="153.20" y1="340.33" x2="154.60" y2="340.33" stroke="#000" stroke-width="0.5"/>
<line x1="153.20" y1="339.14" x2="154.60" y2="339.14" stroke="#000" stroke-width="0.5"/>
<line x1="153.20" y1="338.12" x2="154.60" y2="338.12" stroke="#000" stroke-width="0.5"/>
<line x1="153.20" y1="337.21" x2="154.60" y2="337.21" stroke="#000" stroke-width="0.5"/>
<line x1="153.20" y1="330.95" x2="154.60" y2="330.95" stroke="#000" stroke-width="0.5"/>
<line x1="153.20" y1="327.76" x2="154.60" y2="327.76" stroke="#000" stroke-width="0.5"/>
<line x1="153.20" y1="325.50" x2="154.60" y2="325.50" stroke="#000" stroke-width="0.5"/>
<line x1="153.20" y1="323.75" x2="154.60" y2="323.75" stroke="#000" stroke-width="0.5"/>
<line x1="153.20" y1="322.32" x2="154.60" y2="322.32" stroke="#000" stroke-width="0.5"/>
<line x1="153.20" y1="321.10" x2="154.60" y2="321.10" stroke="#000" stroke-width="0.5"/>
<line x1="153.20" y1="320.05" x2="154.60" y2="320.05" stroke="#000" stroke-width="0.5"/>
<line x1="153.20" y1="319.13" x2="154.60" y2="319.13" stroke="#000" stroke-width="0.5"/>
<line x1="153.20" y1="313.09" x2="154.60" y2="313.09" stroke="#000" stroke-width="0.5"/>
<line x1="153.20" y1="310.05" x2="154.60" y2="310.05" stroke="#000" stroke-width="0.5"/>
<line x1="153.20" y1="307.88" x2="154.60" y2="307.88" stroke="#000" stroke-width="0.5"/>
<line x1="153.20" y1="306.21" x2="154.60" y2="306.21" stroke="#000" stroke-width="0.5"/>
<line x1="153.20" y1="304.84" x2="154.60" y2="304.84" stroke="#000" stroke-width="0.5"/>
<line x1="153.20" y1="303.68" x2="154.60" y2="303.68" stroke="#000" stroke-width="0.5"/>
<line x1="153.20" y1="302.68" x2="154.60" y2="302.68" stroke="#000" stroke-width="0.5"/>
<line x1="153.20" y1="301.79" x2="154.60" y2="301.79" stroke="#000" stroke-width="0.5"/>
<text x="159.00" y="381.90" font-size="7.2" text-anchor="middle">0</text>
<text x="167.90" y="381.90" font-size="7.2" fill="#231f20" textLength="6.60" lengthAdjust="spacingAndGlyphs">10</text>
<text x="174.80" y="379.31" font-size="4.90" fill="#231f20">2</text>
<text x="184.60" y="381.90" font-size="7.2" fill="#231f20" textLength="6.60" lengthAdjust="spacingAndGlyphs">10</text>
<text x="191.50" y="379.31" font-size="4.90" fill="#231f20">3</text>
<text x="202.40" y="381.90" font-size="7.2" fill="#231f20" textLength="6.60" lengthAdjust="spacingAndGlyphs">10</text>
<text x="209.30" y="379.31" font-size="4.90" fill="#231f20">4</text>
<text x="219.70" y="381.90" font-size="7.2" fill="#231f20" textLength="6.60" lengthAdjust="spacingAndGlyphs">10</text>
<text x="226.60" y="379.31" font-size="4.90" fill="#231f20">5</text>
<line x1="159.00" y1="370.20" x2="159.00" y2="372.60" stroke="#000" stroke-width="0.8"/>
<line x1="171.90" y1="370.20" x2="171.90" y2="372.60" stroke="#000" stroke-width="0.8"/>
<line x1="188.60" y1="370.20" x2="188.60" y2="372.60" stroke="#000" stroke-width="0.8"/>
<line x1="206.40" y1="370.20" x2="206.40" y2="372.60" stroke="#000" stroke-width="0.8"/>
<line x1="223.70" y1="370.20" x2="223.70" y2="372.60" stroke="#000" stroke-width="0.8"/>
<line x1="176.93" y1="370.20" x2="176.93" y2="371.50" stroke="#000" stroke-width="0.5"/>
<line x1="179.87" y1="370.20" x2="179.87" y2="371.50" stroke="#000" stroke-width="0.5"/>
<line x1="181.95" y1="370.20" x2="181.95" y2="371.50" stroke="#000" stroke-width="0.5"/>
<line x1="183.57" y1="370.20" x2="183.57" y2="371.50" stroke="#000" stroke-width="0.5"/>
<line x1="184.90" y1="370.20" x2="184.90" y2="371.50" stroke="#000" stroke-width="0.5"/>
<line x1="186.01" y1="370.20" x2="186.01" y2="371.50" stroke="#000" stroke-width="0.5"/>
<line x1="186.98" y1="370.20" x2="186.98" y2="371.50" stroke="#000" stroke-width="0.5"/>
<line x1="187.84" y1="370.20" x2="187.84" y2="371.50" stroke="#000" stroke-width="0.5"/>
<line x1="193.96" y1="370.20" x2="193.96" y2="371.50" stroke="#000" stroke-width="0.5"/>
<line x1="197.09" y1="370.20" x2="197.09" y2="371.50" stroke="#000" stroke-width="0.5"/>
<line x1="199.32" y1="370.20" x2="199.32" y2="371.50" stroke="#000" stroke-width="0.5"/>
<line x1="201.04" y1="370.20" x2="201.04" y2="371.50" stroke="#000" stroke-width="0.5"/>
<line x1="202.45" y1="370.20" x2="202.45" y2="371.50" stroke="#000" stroke-width="0.5"/>
<line x1="203.64" y1="370.20" x2="203.64" y2="371.50" stroke="#000" stroke-width="0.5"/>
<line x1="204.68" y1="370.20" x2="204.68" y2="371.50" stroke="#000" stroke-width="0.5"/>
<line x1="205.59" y1="370.20" x2="205.59" y2="371.50" stroke="#000" stroke-width="0.5"/>
<line x1="211.61" y1="370.20" x2="211.61" y2="371.50" stroke="#000" stroke-width="0.5"/>
<line x1="214.65" y1="370.20" x2="214.65" y2="371.50" stroke="#000" stroke-width="0.5"/>
<line x1="216.82" y1="370.20" x2="216.82" y2="371.50" stroke="#000" stroke-width="0.5"/>
<line x1="218.49" y1="370.20" x2="218.49" y2="371.50" stroke="#000" stroke-width="0.5"/>
<line x1="219.86" y1="370.20" x2="219.86" y2="371.50" stroke="#000" stroke-width="0.5"/>
<line x1="221.02" y1="370.20" x2="221.02" y2="371.50" stroke="#000" stroke-width="0.5"/>
<line x1="222.02" y1="370.20" x2="222.02" y2="371.50" stroke="#000" stroke-width="0.5"/>
<line x1="222.91" y1="370.20" x2="222.91" y2="371.50" stroke="#000" stroke-width="0.5"/>
<rect x="155.50" y="370.60" width="4.00" height="1.60" fill="#000"/>
<text x="0" y="0" font-size="9.0" text-anchor="middle" fill="#231f20" transform="translate(19.4 334.6) rotate(-90)"><tspan textLength="29.5" lengthAdjust="spacingAndGlyphs">tdTomato</tspan><tspan dx="0.4" dy="-3.8" font-size="6.0">+</tspan></text>
<text x="0" y="0" font-size="9.0" text-anchor="middle" fill="#231f20" transform="translate(133.2 334.6) rotate(-90)"><tspan textLength="29.5" lengthAdjust="spacingAndGlyphs">tdTomato</tspan><tspan dx="0.4" dy="-3.8" font-size="6.0">+</tspan></text>
<text x="66.40" y="394.20" font-size="9.4" textLength="20.30" lengthAdjust="spacingAndGlyphs">Fc&#947;RI</text>
<text x="178.40" y="394.20" font-size="9.4" textLength="28.00" lengthAdjust="spacingAndGlyphs">Fc&#947;RIIb</text>
<rect x="64.80" y="277.40" width="6.50" height="5.90" fill="#c8c8c8"/>
<text x="74.80" y="282.50" font-size="6.8" textLength="25.60" lengthAdjust="spacingAndGlyphs" fill="#333">Unstained</text>
<rect x="110.30" y="277.40" width="5.80" height="5.90" fill="#203e7c"/>
<text x="119.80" y="282.50" font-size="6.8" textLength="25.00" lengthAdjust="spacingAndGlyphs" fill="#333">Untreated</text>
<rect x="155.00" y="277.40" width="6.00" height="5.90" fill="#b2102e"/>
<text x="164.50" y="282.50" font-size="6.8" textLength="29.30" lengthAdjust="spacingAndGlyphs" fill="#333">&#945;CD20 6 hr</text>
<line x1="290.80" y1="313.71" x2="290.80" y2="370.80" stroke="#000" stroke-width="1.2"/>
<line x1="290.20" y1="370.20" x2="372.60" y2="370.20" stroke="#000" stroke-width="1.2"/>
<line x1="287.80" y1="370.20" x2="290.80" y2="370.20" stroke="#000" stroke-width="1.1"/>
<text x="283.60" y="372.80" font-size="7.4" text-anchor="end">0</text>
<line x1="287.80" y1="351.57" x2="290.80" y2="351.57" stroke="#000" stroke-width="1.1"/>
<text x="267.00" y="354.17" font-size="7.2" fill="#231f20" textLength="14.4" lengthAdjust="spacingAndGlyphs">1x10</text>
<text x="281.60" y="350.87" font-size="4.6" fill="#231f20">4</text>
<line x1="287.80" y1="332.94" x2="290.80" y2="332.94" stroke="#000" stroke-width="1.1"/>
<text x="267.00" y="335.54" font-size="7.2" fill="#231f20" textLength="14.4" lengthAdjust="spacingAndGlyphs">2x10</text>
<text x="281.60" y="332.24" font-size="4.6" fill="#231f20">4</text>
<line x1="287.80" y1="314.31" x2="290.80" y2="314.31" stroke="#000" stroke-width="1.1"/>
<text x="267.00" y="316.91" font-size="7.2" fill="#231f20" textLength="14.4" lengthAdjust="spacingAndGlyphs">3x10</text>
<text x="281.60" y="313.61" font-size="4.6" fill="#231f20">4</text>
<line x1="296.10" y1="370.20" x2="296.10" y2="373.00" stroke="#000" stroke-width="1.1"/>
<text x="296.10" y="382.80" font-size="7.6" text-anchor="middle">0</text>
<line x1="313.04" y1="370.20" x2="313.04" y2="373.00" stroke="#000" stroke-width="1.1"/>
<text x="313.04" y="382.80" font-size="7.6" text-anchor="middle">12</text>
<line x1="329.99" y1="370.20" x2="329.99" y2="373.00" stroke="#000" stroke-width="1.1"/>
<text x="329.99" y="382.80" font-size="7.6" text-anchor="middle">24</text>
<line x1="346.93" y1="370.20" x2="346.93" y2="373.00" stroke="#000" stroke-width="1.1"/>
<text x="346.93" y="382.80" font-size="7.6" text-anchor="middle">36</text>
<line x1="363.88" y1="370.20" x2="363.88" y2="373.00" stroke="#000" stroke-width="1.1"/>
<text x="363.88" y="382.80" font-size="7.6" text-anchor="middle">48</text>
<line x1="296.10" y1="321.39" x2="296.10" y2="336.67" stroke="#c6c6c6" stroke-width="0.9"/>
<line x1="294.40" y1="321.39" x2="297.80" y2="321.39" stroke="#c6c6c6" stroke-width="0.9"/>
<line x1="294.40" y1="336.67" x2="297.80" y2="336.67" stroke="#c6c6c6" stroke-width="0.9"/>
<line x1="298.22" y1="333.87" x2="298.22" y2="340.39" stroke="#c6c6c6" stroke-width="0.9"/>
<line x1="296.52" y1="333.87" x2="299.92" y2="333.87" stroke="#c6c6c6" stroke-width="0.9"/>
<line x1="296.52" y1="340.39" x2="299.92" y2="340.39" stroke="#c6c6c6" stroke-width="0.9"/>
<line x1="304.57" y1="349.33" x2="304.57" y2="352.50" stroke="#c6c6c6" stroke-width="0.9"/>
<line x1="302.87" y1="349.33" x2="306.27" y2="349.33" stroke="#c6c6c6" stroke-width="0.9"/>
<line x1="302.87" y1="352.50" x2="306.27" y2="352.50" stroke="#c6c6c6" stroke-width="0.9"/>
<line x1="318.69" y1="338.53" x2="318.69" y2="344.49" stroke="#c6c6c6" stroke-width="0.9"/>
<line x1="316.99" y1="338.53" x2="320.39" y2="338.53" stroke="#c6c6c6" stroke-width="0.9"/>
<line x1="316.99" y1="344.49" x2="320.39" y2="344.49" stroke="#c6c6c6" stroke-width="0.9"/>
<line x1="363.88" y1="333.87" x2="363.88" y2="340.02" stroke="#c6c6c6" stroke-width="0.9"/>
<line x1="362.18" y1="333.87" x2="365.58" y2="333.87" stroke="#c6c6c6" stroke-width="0.9"/>
<line x1="362.18" y1="340.02" x2="365.58" y2="340.02" stroke="#c6c6c6" stroke-width="0.9"/>
<path d="M296.10,331.64 L298.22,336.67 L304.57,350.82 L318.69,342.07 L363.88,337.41" fill="none" stroke="#c6c6c6" stroke-width="1.4" stroke-linejoin="round"/>
<path d="M294.10,331.64 L296.10,329.64 L298.10,331.64 L296.10,333.64 Z" fill="#c6c6c6"/>
<path d="M296.22,336.67 L298.22,334.67 L300.22,336.67 L298.22,338.67 Z" fill="#c6c6c6"/>
<path d="M302.57,350.82 L304.57,348.82 L306.57,350.82 L304.57,352.82 Z" fill="#c6c6c6"/>
<path d="M316.69,342.07 L318.69,340.07 L320.69,342.07 L318.69,344.07 Z" fill="#c6c6c6"/>
<path d="M361.88,337.41 L363.88,335.41 L365.88,337.41 L363.88,339.41 Z" fill="#c6c6c6"/>
<line x1="296.10" y1="327.35" x2="296.10" y2="339.27" stroke="#d9798b" stroke-width="0.9"/>
<line x1="294.40" y1="327.35" x2="297.80" y2="327.35" stroke="#d9798b" stroke-width="0.9"/>
<line x1="294.40" y1="339.27" x2="297.80" y2="339.27" stroke="#d9798b" stroke-width="0.9"/>
<line x1="298.22" y1="348.40" x2="298.22" y2="355.30" stroke="#b0173a" stroke-width="0.9"/>
<line x1="296.52" y1="348.40" x2="299.92" y2="348.40" stroke="#b0173a" stroke-width="0.9"/>
<line x1="296.52" y1="355.30" x2="299.92" y2="355.30" stroke="#b0173a" stroke-width="0.9"/>
<line x1="304.57" y1="355.67" x2="304.57" y2="357.53" stroke="#b0173a" stroke-width="0.9"/>
<line x1="302.87" y1="355.67" x2="306.27" y2="355.67" stroke="#b0173a" stroke-width="0.9"/>
<line x1="302.87" y1="357.53" x2="306.27" y2="357.53" stroke="#b0173a" stroke-width="0.9"/>
<line x1="318.69" y1="349.71" x2="318.69" y2="355.85" stroke="#b0173a" stroke-width="0.9"/>
<line x1="316.99" y1="349.71" x2="320.39" y2="349.71" stroke="#b0173a" stroke-width="0.9"/>
<line x1="316.99" y1="355.85" x2="320.39" y2="355.85" stroke="#b0173a" stroke-width="0.9"/>
<line x1="363.88" y1="340.02" x2="363.88" y2="343.19" stroke="#b0173a" stroke-width="0.9"/>
<line x1="362.18" y1="340.02" x2="365.58" y2="340.02" stroke="#b0173a" stroke-width="0.9"/>
<line x1="362.18" y1="343.19" x2="365.58" y2="343.19" stroke="#b0173a" stroke-width="0.9"/>
<path d="M296.10,339.27 L296.81,350.27 L298.22,351.57 L304.57,356.51 L318.69,352.87 L363.88,341.88" fill="none" stroke="#b0173a" stroke-width="1.4" stroke-linejoin="round"/>
<path d="M294.10,339.27 L296.10,337.27 L298.10,339.27 L296.10,341.27 Z" fill="#b0173a"/>
<path d="M294.81,350.27 L296.81,348.27 L298.81,350.27 L296.81,352.27 Z" fill="#b0173a"/>
<path d="M296.22,351.57 L298.22,349.57 L300.22,351.57 L298.22,353.57 Z" fill="#b0173a"/>
<path d="M302.57,356.51 L304.57,354.51 L306.57,356.51 L304.57,358.51 Z" fill="#b0173a"/>
<path d="M316.69,352.87 L318.69,350.87 L320.69,352.87 L318.69,354.87 Z" fill="#b0173a"/>
<path d="M361.88,341.88 L363.88,339.88 L365.88,341.88 L363.88,343.88 Z" fill="#b0173a"/>
<line x1="307.00" y1="316.50" x2="314.40" y2="316.50" stroke="#c6c6c6" stroke-width="1.4"/>
<path d="M308.50,316.50 L310.60,314.40 L312.70,316.50 L310.60,318.60 Z" fill="#c6c6c6"/>
<line x1="307.00" y1="326.20" x2="314.40" y2="326.20" stroke="#b0173a" stroke-width="1.4"/>
<path d="M308.50,326.20 L310.60,324.10 L312.70,326.20 L310.60,328.30 Z" fill="#b0173a"/>
<text x="317.60" y="319.00" font-size="7.0" textLength="16.50" lengthAdjust="spacingAndGlyphs">All KC</text>
<text x="317.60" y="329.00" font-size="7.9" fill="#231f20"><tspan textLength="28.76" lengthAdjust="spacingAndGlyphs">tdTomato</tspan><tspan dx="0.5" dy="-3.0" font-size="4.8">+</tspan><tspan dx="1.6" dy="3.0" textLength="8.46" lengthAdjust="spacingAndGlyphs">KC</tspan></text>
<text x="0" y="0" font-size="8.8" text-anchor="middle" textLength="27.00" lengthAdjust="spacingAndGlyphs" transform="translate(261.97 340.90) rotate(-90)">FcRI MFI</text>
<text x="291.60" y="395.30" font-size="8.6" textLength="80.00" lengthAdjust="spacingAndGlyphs">&#945;CD20 treatment (hours)</text>
<line x1="413.00" y1="314.40" x2="413.00" y2="371.10" stroke="#000" stroke-width="1.2"/>
<line x1="412.40" y1="370.50" x2="495.00" y2="370.50" stroke="#000" stroke-width="1.2"/>
<line x1="410.00" y1="370.50" x2="413.00" y2="370.50" stroke="#000" stroke-width="1.1"/>
<text x="407.40" y="373.10" font-size="7.4" text-anchor="end">0</text>
<line x1="410.00" y1="352.00" x2="413.00" y2="352.00" stroke="#000" stroke-width="1.1"/>
<text x="390.80" y="354.60" font-size="7.2" fill="#231f20" textLength="14.4" lengthAdjust="spacingAndGlyphs">1x10</text>
<text x="405.40" y="351.30" font-size="4.6" fill="#231f20">4</text>
<line x1="410.00" y1="333.50" x2="413.00" y2="333.50" stroke="#000" stroke-width="1.1"/>
<text x="390.80" y="336.10" font-size="7.2" fill="#231f20" textLength="14.4" lengthAdjust="spacingAndGlyphs">2x10</text>
<text x="405.40" y="332.80" font-size="4.6" fill="#231f20">4</text>
<line x1="410.00" y1="315.00" x2="413.00" y2="315.00" stroke="#000" stroke-width="1.1"/>
<text x="390.80" y="317.60" font-size="7.2" fill="#231f20" textLength="14.4" lengthAdjust="spacingAndGlyphs">3x10</text>
<text x="405.40" y="314.30" font-size="4.6" fill="#231f20">4</text>
<line x1="418.30" y1="370.50" x2="418.30" y2="373.30" stroke="#000" stroke-width="1.1"/>
<text x="418.30" y="383.10" font-size="7.6" text-anchor="middle">0</text>
<line x1="435.40" y1="370.50" x2="435.40" y2="373.30" stroke="#000" stroke-width="1.1"/>
<text x="435.40" y="383.10" font-size="7.6" text-anchor="middle">12</text>
<line x1="452.50" y1="370.50" x2="452.50" y2="373.30" stroke="#000" stroke-width="1.1"/>
<text x="452.50" y="383.10" font-size="7.6" text-anchor="middle">24</text>
<line x1="469.60" y1="370.50" x2="469.60" y2="373.30" stroke="#000" stroke-width="1.1"/>
<text x="469.60" y="383.10" font-size="7.6" text-anchor="middle">36</text>
<line x1="486.70" y1="370.50" x2="486.70" y2="373.30" stroke="#000" stroke-width="1.1"/>
<text x="486.70" y="383.10" font-size="7.6" text-anchor="middle">48</text>
<line x1="418.30" y1="325.18" x2="418.30" y2="341.82" stroke="#c6c6c6" stroke-width="0.9"/>
<line x1="416.60" y1="325.18" x2="420.00" y2="325.18" stroke="#c6c6c6" stroke-width="0.9"/>
<line x1="416.60" y1="341.82" x2="420.00" y2="341.82" stroke="#c6c6c6" stroke-width="0.9"/>
<line x1="420.44" y1="337.20" x2="420.44" y2="342.75" stroke="#c6c6c6" stroke-width="0.9"/>
<line x1="418.74" y1="337.20" x2="422.14" y2="337.20" stroke="#c6c6c6" stroke-width="0.9"/>
<line x1="418.74" y1="342.75" x2="422.14" y2="342.75" stroke="#c6c6c6" stroke-width="0.9"/>
<line x1="426.85" y1="350.15" x2="426.85" y2="358.11" stroke="#c6c6c6" stroke-width="0.9"/>
<line x1="425.15" y1="350.15" x2="428.55" y2="350.15" stroke="#c6c6c6" stroke-width="0.9"/>
<line x1="425.15" y1="358.11" x2="428.55" y2="358.11" stroke="#c6c6c6" stroke-width="0.9"/>
<line x1="441.10" y1="337.94" x2="441.10" y2="354.96" stroke="#c6c6c6" stroke-width="0.9"/>
<line x1="439.40" y1="337.94" x2="442.80" y2="337.94" stroke="#c6c6c6" stroke-width="0.9"/>
<line x1="439.40" y1="354.96" x2="442.80" y2="354.96" stroke="#c6c6c6" stroke-width="0.9"/>
<line x1="486.70" y1="339.98" x2="486.70" y2="346.63" stroke="#c6c6c6" stroke-width="0.9"/>
<line x1="485.00" y1="339.98" x2="488.40" y2="339.98" stroke="#c6c6c6" stroke-width="0.9"/>
<line x1="485.00" y1="346.63" x2="488.40" y2="346.63" stroke="#c6c6c6" stroke-width="0.9"/>
<path d="M418.30,337.20 L420.44,338.68 L426.85,354.22 L441.10,346.45 L486.70,343.68" fill="none" stroke="#c6c6c6" stroke-width="1.4" stroke-linejoin="round"/>
<path d="M416.30,337.20 L418.30,335.20 L420.30,337.20 L418.30,339.20 Z" fill="#c6c6c6"/>
<path d="M418.44,338.68 L420.44,336.68 L422.44,338.68 L420.44,340.68 Z" fill="#c6c6c6"/>
<path d="M424.85,354.22 L426.85,352.22 L428.85,354.22 L426.85,356.22 Z" fill="#c6c6c6"/>
<path d="M439.10,346.45 L441.10,344.45 L443.10,346.45 L441.10,348.45 Z" fill="#c6c6c6"/>
<path d="M484.70,343.68 L486.70,341.68 L488.70,343.68 L486.70,345.68 Z" fill="#c6c6c6"/>
<line x1="418.30" y1="324.99" x2="418.30" y2="341.82" stroke="#d9798b" stroke-width="0.9"/>
<line x1="416.60" y1="324.99" x2="420.00" y2="324.99" stroke="#d9798b" stroke-width="0.9"/>
<line x1="416.60" y1="341.82" x2="420.00" y2="341.82" stroke="#d9798b" stroke-width="0.9"/>
<line x1="420.44" y1="355.70" x2="420.44" y2="362.18" stroke="#b0173a" stroke-width="0.9"/>
<line x1="418.74" y1="355.70" x2="422.14" y2="355.70" stroke="#b0173a" stroke-width="0.9"/>
<line x1="418.74" y1="362.18" x2="422.14" y2="362.18" stroke="#b0173a" stroke-width="0.9"/>
<line x1="426.85" y1="359.40" x2="426.85" y2="363.10" stroke="#b0173a" stroke-width="0.9"/>
<line x1="425.15" y1="359.40" x2="428.55" y2="359.40" stroke="#b0173a" stroke-width="0.9"/>
<line x1="425.15" y1="363.10" x2="428.55" y2="363.10" stroke="#b0173a" stroke-width="0.9"/>
<line x1="486.70" y1="347.38" x2="486.70" y2="354.59" stroke="#b0173a" stroke-width="0.9"/>
<line x1="485.00" y1="347.38" x2="488.40" y2="347.38" stroke="#b0173a" stroke-width="0.9"/>
<line x1="485.00" y1="354.59" x2="488.40" y2="354.59" stroke="#b0173a" stroke-width="0.9"/>
<path d="M418.30,341.82 L419.01,358.11 L420.44,359.40 L426.85,361.25 L441.10,358.85 L486.70,350.33" fill="none" stroke="#b0173a" stroke-width="1.4" stroke-linejoin="round"/>
<path d="M416.30,341.82 L418.30,339.82 L420.30,341.82 L418.30,343.82 Z" fill="#b0173a"/>
<path d="M417.01,358.11 L419.01,356.11 L421.01,358.11 L419.01,360.11 Z" fill="#b0173a"/>
<path d="M418.44,359.40 L420.44,357.40 L422.44,359.40 L420.44,361.40 Z" fill="#b0173a"/>
<path d="M424.85,361.25 L426.85,359.25 L428.85,361.25 L426.85,363.25 Z" fill="#b0173a"/>
<path d="M439.10,358.85 L441.10,356.85 L443.10,358.85 L441.10,360.85 Z" fill="#b0173a"/>
<path d="M484.70,350.33 L486.70,348.33 L488.70,350.33 L486.70,352.33 Z" fill="#b0173a"/>
<line x1="423.70" y1="315.50" x2="431.10" y2="315.50" stroke="#c6c6c6" stroke-width="1.4"/>
<path d="M425.20,315.50 L427.30,313.40 L429.40,315.50 L427.30,317.60 Z" fill="#c6c6c6"/>
<line x1="423.70" y1="325.00" x2="431.10" y2="325.00" stroke="#b0173a" stroke-width="1.4"/>
<path d="M425.20,325.00 L427.30,322.90 L429.40,325.00 L427.30,327.10 Z" fill="#b0173a"/>
<text x="434.30" y="318.00" font-size="7.0" textLength="15.70" lengthAdjust="spacingAndGlyphs">All KC</text>
<text x="434.30" y="327.80" font-size="7.9" fill="#231f20"><tspan textLength="29.51" lengthAdjust="spacingAndGlyphs">tdTomato</tspan><tspan dx="0.5" dy="-3.0" font-size="4.8">+</tspan><tspan dx="1.6" dy="3.0" textLength="8.68" lengthAdjust="spacingAndGlyphs">KC</tspan></text>
<text x="0" y="0" font-size="8.8" text-anchor="middle" textLength="32.20" lengthAdjust="spacingAndGlyphs" transform="translate(383.77 341.70) rotate(-90)">FcRIIb MFI</text>
<text x="414.20" y="395.30" font-size="8.6" textLength="80.80" lengthAdjust="spacingAndGlyphs">&#945;CD20 treatment (hours)</text>
<rect x="0.6" y="0.6" width="518.8" height="403.4" fill="none" stroke="#000" stroke-width="1.3"/>
</svg>
</body></html>
